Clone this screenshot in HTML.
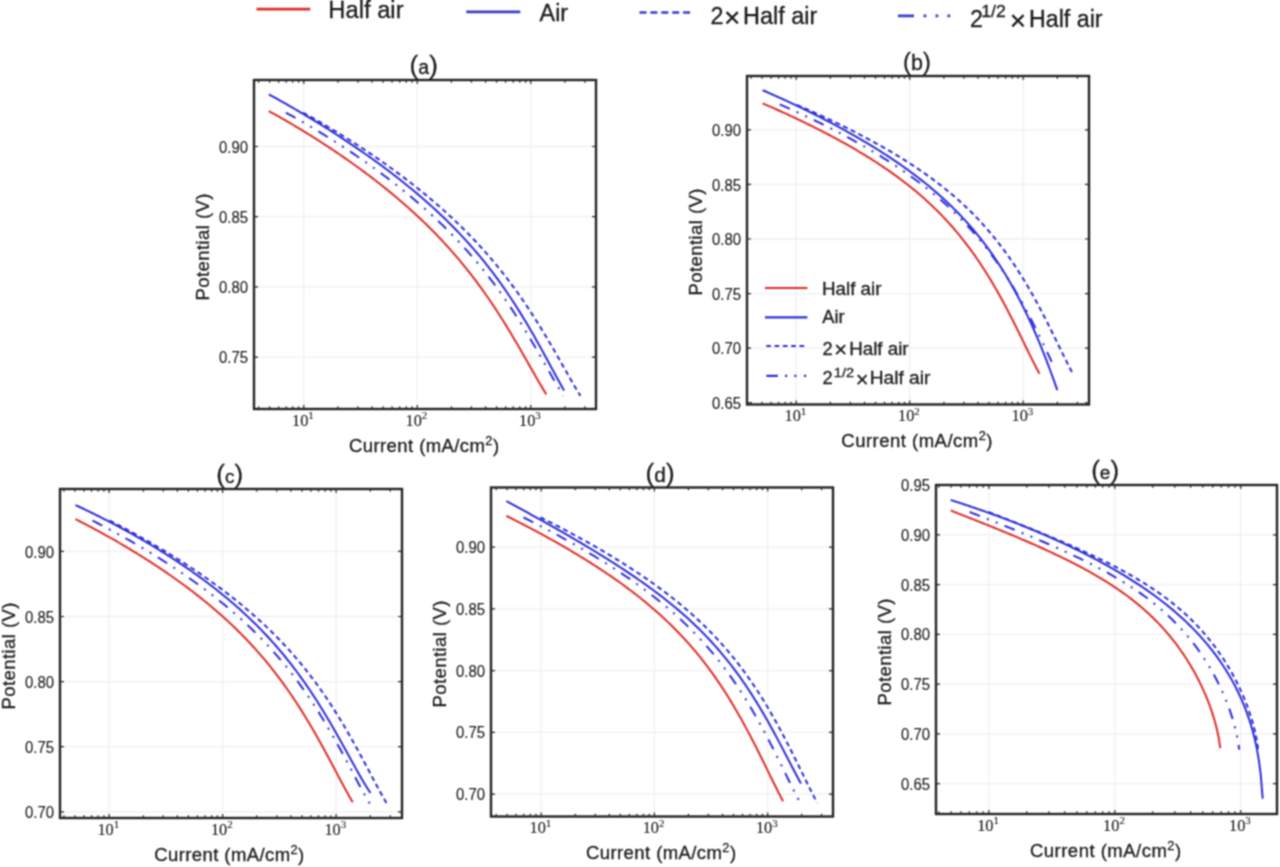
<!DOCTYPE html>
<html><head><meta charset="utf-8"><style>
html,body{margin:0;padding:0;background:#fff;width:1280px;height:867px;overflow:hidden;}
svg{display:block;}
text{stroke:#1c1c1c;stroke-width:0.3px;}
text.tk{stroke-width:0.12px;}
</style></head><body>
<svg width="1280" height="867" viewBox="0 0 1280 867">
<defs><filter id="soft" filterUnits="userSpaceOnUse" x="0" y="0" width="1280" height="867" color-interpolation-filters="sRGB"><feConvolveMatrix order="3" kernelMatrix="1 2 1 2 4 2 1 2 1" divisor="16" edgeMode="duplicate"/></filter></defs>
<g filter="url(#soft)"><rect x="0" y="0" width="1280" height="867" fill="#fff"/>
<path d="M303.75,80.00V409.00 M417.25,80.00V409.00 M530.75,80.00V409.00 M254.00,146.50H596.00 M254.00,216.70H596.00 M254.00,286.90H596.00 M254.00,357.10H596.00" stroke="#f0f0f0" stroke-width="1.3" fill="none"/>
<path d="M268.80,111.08 L270.55,112.04 L272.29,113.01 L274.04,113.98 L275.78,114.95 L277.53,115.93 L279.27,116.92 L281.02,117.91 L282.76,118.91 L284.51,119.91 L286.25,120.91 L288.00,121.93 L289.74,122.94 L291.49,123.97 L293.23,125.00 L294.98,126.03 L296.72,127.07 L298.47,128.11 L300.22,129.16 L301.96,130.22 L303.71,131.28 L305.45,132.35 L307.20,133.42 L308.94,134.50 L310.69,135.59 L312.43,136.68 L314.18,137.77 L315.92,138.88 L317.67,139.98 L319.41,141.10 L321.16,142.22 L322.90,143.34 L324.65,144.48 L326.39,145.62 L328.14,146.76 L329.88,147.91 L331.63,149.07 L333.38,150.23 L335.12,151.40 L336.87,152.58 L338.61,153.77 L340.36,154.96 L342.10,156.15 L343.85,157.36 L345.59,158.57 L347.34,159.79 L349.08,161.02 L350.83,162.25 L352.57,163.49 L354.32,164.74 L356.06,165.99 L357.81,167.25 L359.55,168.53 L361.30,169.80 L363.05,171.09 L364.79,172.39 L366.54,173.69 L368.28,175.00 L370.03,176.32 L371.77,177.65 L373.52,178.98 L375.26,180.33 L377.01,181.69 L378.75,183.05 L380.50,184.42 L382.24,185.81 L383.99,187.20 L385.73,188.60 L387.48,190.01 L389.22,191.44 L390.97,192.87 L392.72,194.31 L394.46,195.77 L396.21,197.24 L397.95,198.71 L399.70,200.20 L401.44,201.70 L403.19,203.21 L404.93,204.74 L406.68,206.27 L408.42,207.82 L410.17,209.38 L411.91,210.96 L413.66,212.55 L415.40,214.15 L417.15,215.77 L418.89,217.40 L420.64,219.04 L422.38,220.70 L424.13,222.38 L425.88,224.07 L427.62,225.78 L429.37,227.50 L431.11,229.24 L432.86,231.00 L434.60,232.78 L436.35,234.57 L438.09,236.38 L439.84,238.21 L441.58,240.06 L443.33,241.93 L445.07,243.81 L446.82,245.72 L448.56,247.65 L450.31,249.60 L452.05,251.57 L453.80,253.56 L455.55,255.58 L457.29,257.62 L459.04,259.68 L460.78,261.77 L462.53,263.88 L464.27,266.01 L466.02,268.17 L467.76,270.36 L469.51,272.57 L471.25,274.81 L473.00,277.07 L474.74,279.36 L476.49,281.68 L478.23,284.03 L479.98,286.41 L481.72,288.81 L483.47,291.25 L485.22,293.71 L486.96,296.20 L488.71,298.73 L490.45,301.28 L492.20,303.87 L493.94,306.48 L495.69,309.13 L497.43,311.80 L499.18,314.51 L500.92,317.24 L502.67,320.00 L504.41,322.80 L506.16,325.62 L507.90,328.47 L509.65,331.35 L511.39,334.25 L513.14,337.18 L514.88,340.14 L516.63,343.11 L518.38,346.11 L520.12,349.12 L521.87,352.16 L523.61,355.20 L525.36,358.26 L527.10,361.33 L528.85,364.40 L530.59,367.48 L532.34,370.55 L534.08,373.61 L535.83,376.67 L537.57,379.70 L539.32,382.71 L541.06,385.69 L542.81,388.63 L544.55,391.52 L546.30,394.35" stroke="#de2e28" stroke-width="2" fill="none"/>
<path d="M268.80,94.37 L270.66,95.38 L272.51,96.40 L274.37,97.43 L276.23,98.46 L278.09,99.49 L279.94,100.53 L281.80,101.57 L283.66,102.62 L285.52,103.67 L287.37,104.73 L289.23,105.79 L291.09,106.86 L292.94,107.93 L294.80,109.01 L296.66,110.09 L298.52,111.17 L300.37,112.27 L302.23,113.36 L304.09,114.47 L305.94,115.57 L307.80,116.68 L309.66,117.80 L311.52,118.93 L313.37,120.05 L315.23,121.19 L317.09,122.33 L318.95,123.47 L320.80,124.62 L322.66,125.77 L324.52,126.93 L326.37,128.10 L328.23,129.27 L330.09,130.45 L331.95,131.63 L333.80,132.82 L335.66,134.02 L337.52,135.22 L339.37,136.43 L341.23,137.64 L343.09,138.86 L344.95,140.08 L346.80,141.31 L348.66,142.55 L350.52,143.80 L352.38,145.05 L354.23,146.31 L356.09,147.57 L357.95,148.84 L359.80,150.12 L361.66,151.40 L363.52,152.70 L365.38,153.99 L367.23,155.30 L369.09,156.61 L370.95,157.94 L372.81,159.27 L374.66,160.60 L376.52,161.95 L378.38,163.30 L380.23,164.66 L382.09,166.03 L383.95,167.41 L385.81,168.80 L387.66,170.19 L389.52,171.60 L391.38,173.01 L393.23,174.43 L395.09,175.87 L396.95,177.31 L398.81,178.76 L400.66,180.22 L402.52,181.70 L404.38,183.18 L406.24,184.67 L408.09,186.18 L409.95,187.70 L411.81,189.22 L413.66,190.76 L415.52,192.32 L417.38,193.88 L419.24,195.46 L421.09,197.05 L422.95,198.65 L424.81,200.27 L426.66,201.90 L428.52,203.55 L430.38,205.21 L432.24,206.88 L434.09,208.57 L435.95,210.28 L437.81,212.00 L439.67,213.74 L441.52,215.50 L443.38,217.27 L445.24,219.06 L447.09,220.87 L448.95,222.70 L450.81,224.55 L452.67,226.42 L454.52,228.31 L456.38,230.22 L458.24,232.15 L460.09,234.10 L461.95,236.07 L463.81,238.07 L465.67,240.09 L467.52,242.14 L469.38,244.21 L471.24,246.30 L473.10,248.42 L474.95,250.57 L476.81,252.74 L478.67,254.95 L480.52,257.18 L482.38,259.44 L484.24,261.73 L486.10,264.05 L487.95,266.40 L489.81,268.78 L491.67,271.19 L493.53,273.64 L495.38,276.12 L497.24,278.64 L499.10,281.19 L500.95,283.77 L502.81,286.39 L504.67,289.05 L506.53,291.74 L508.38,294.47 L510.24,297.24 L512.10,300.04 L513.95,302.88 L515.81,305.76 L517.67,308.68 L519.53,311.64 L521.38,314.63 L523.24,317.66 L525.10,320.73 L526.96,323.84 L528.81,326.98 L530.67,330.16 L532.53,333.37 L534.38,336.61 L536.24,339.89 L538.10,343.19 L539.96,346.52 L541.81,349.88 L543.67,353.26 L545.53,356.66 L547.38,360.07 L549.24,363.49 L551.10,366.92 L552.96,370.36 L554.81,373.79 L556.67,377.20 L558.53,380.60 L560.39,383.98 L562.24,387.32 L564.10,390.62" stroke="#2e2edc" stroke-width="2" fill="none"/>
<path d="M302.97,112.58 L304.71,113.54 L306.46,114.51 L308.20,115.48 L309.95,116.45 L311.69,117.43 L313.44,118.42 L315.18,119.41 L316.93,120.41 L318.67,121.41 L320.42,122.41 L322.17,123.43 L323.91,124.44 L325.66,125.47 L327.40,126.50 L329.15,127.53 L330.89,128.57 L332.64,129.61 L334.38,130.66 L336.13,131.72 L337.87,132.78 L339.62,133.85 L341.36,134.92 L343.11,136.00 L344.85,137.09 L346.60,138.18 L348.34,139.27 L350.09,140.38 L351.83,141.48 L353.58,142.60 L355.33,143.72 L357.07,144.84 L358.82,145.98 L360.56,147.12 L362.31,148.26 L364.05,149.41 L365.80,150.57 L367.54,151.73 L369.29,152.90 L371.03,154.08 L372.78,155.27 L374.52,156.46 L376.27,157.65 L378.01,158.86 L379.76,160.07 L381.50,161.29 L383.25,162.52 L385.00,163.75 L386.74,164.99 L388.49,166.24 L390.23,167.49 L391.98,168.75 L393.72,170.03 L395.47,171.30 L397.21,172.59 L398.96,173.89 L400.70,175.19 L402.45,176.50 L404.19,177.82 L405.94,179.15 L407.68,180.48 L409.43,181.83 L411.17,183.19 L412.92,184.55 L414.67,185.92 L416.41,187.31 L418.16,188.70 L419.90,190.10 L421.65,191.51 L423.39,192.94 L425.14,194.37 L426.88,195.81 L428.63,197.27 L430.37,198.74 L432.12,200.21 L433.86,201.70 L435.61,203.20 L437.35,204.71 L439.10,206.24 L440.84,207.77 L442.59,209.32 L444.33,210.88 L446.08,212.46 L447.83,214.05 L449.57,215.65 L451.32,217.27 L453.06,218.90 L454.81,220.54 L456.55,222.20 L458.30,223.88 L460.04,225.57 L461.79,227.28 L463.53,229.00 L465.28,230.74 L467.02,232.50 L468.77,234.28 L470.51,236.07 L472.26,237.88 L474.00,239.71 L475.75,241.56 L477.50,243.43 L479.24,245.31 L480.99,247.22 L482.73,249.15 L484.48,251.10 L486.22,253.07 L487.97,255.06 L489.71,257.08 L491.46,259.12 L493.20,261.18 L494.95,263.27 L496.69,265.38 L498.44,267.51 L500.18,269.67 L501.93,271.86 L503.67,274.07 L505.42,276.31 L507.17,278.57 L508.91,280.86 L510.66,283.18 L512.40,285.53 L514.15,287.91 L515.89,290.31 L517.64,292.75 L519.38,295.21 L521.13,297.70 L522.87,300.23 L524.62,302.78 L526.36,305.37 L528.11,307.98 L529.85,310.63 L531.60,313.30 L533.34,316.01 L535.09,318.74 L536.83,321.50 L538.58,324.30 L540.33,327.12 L542.07,329.97 L543.82,332.85 L545.56,335.75 L547.31,338.68 L549.05,341.64 L550.80,344.61 L552.54,347.61 L554.29,350.62 L556.03,353.66 L557.78,356.70 L559.52,359.76 L561.27,362.83 L563.01,365.90 L564.76,368.98 L566.50,372.05 L568.25,375.11 L570.00,378.17 L571.74,381.20 L573.49,384.21 L575.23,387.19 L576.98,390.13 L578.72,393.02 L580.47,395.85" stroke="#2e2edc" stroke-width="2" fill="none" stroke-dasharray="5,3.5"/>
<path d="M285.88,112.58 L287.63,113.54 L289.37,114.51 L291.12,115.48 L292.86,116.45 L294.61,117.43 L296.36,118.42 L298.10,119.41 L299.85,120.41 L301.59,121.41 L303.34,122.41 L305.08,123.43 L306.83,124.44 L308.57,125.47 L310.32,126.50 L312.06,127.53 L313.81,128.57 L315.55,129.61 L317.30,130.66 L319.04,131.72 L320.79,132.78 L322.53,133.85 L324.28,134.92 L326.02,136.00 L327.77,137.09 L329.52,138.18 L331.26,139.27 L333.01,140.38 L334.75,141.48 L336.50,142.60 L338.24,143.72 L339.99,144.84 L341.73,145.98 L343.48,147.12 L345.22,148.26 L346.97,149.41 L348.71,150.57 L350.46,151.73 L352.20,152.90 L353.95,154.08 L355.69,155.27 L357.44,156.46 L359.19,157.65 L360.93,158.86 L362.68,160.07 L364.42,161.29 L366.17,162.52 L367.91,163.75 L369.66,164.99 L371.40,166.24 L373.15,167.49 L374.89,168.75 L376.64,170.03 L378.38,171.30 L380.13,172.59 L381.87,173.89 L383.62,175.19 L385.36,176.50 L387.11,177.82 L388.86,179.15 L390.60,180.48 L392.35,181.83 L394.09,183.19 L395.84,184.55 L397.58,185.92 L399.33,187.31 L401.07,188.70 L402.82,190.10 L404.56,191.51 L406.31,192.94 L408.05,194.37 L409.80,195.81 L411.54,197.27 L413.29,198.74 L415.03,200.21 L416.78,201.70 L418.52,203.20 L420.27,204.71 L422.02,206.24 L423.76,207.77 L425.51,209.32 L427.25,210.88 L429.00,212.46 L430.74,214.05 L432.49,215.65 L434.23,217.27 L435.98,218.90 L437.72,220.54 L439.47,222.20 L441.21,223.88 L442.96,225.57 L444.70,227.28 L446.45,229.00 L448.19,230.74 L449.94,232.50 L451.69,234.28 L453.43,236.07 L455.18,237.88 L456.92,239.71 L458.67,241.56 L460.41,243.43 L462.16,245.31 L463.90,247.22 L465.65,249.15 L467.39,251.10 L469.14,253.07 L470.88,255.06 L472.63,257.08 L474.37,259.12 L476.12,261.18 L477.86,263.27 L479.61,265.38 L481.36,267.51 L483.10,269.67 L484.85,271.86 L486.59,274.07 L488.34,276.31 L490.08,278.57 L491.83,280.86 L493.57,283.18 L495.32,285.53 L497.06,287.91 L498.81,290.31 L500.55,292.75 L502.30,295.21 L504.04,297.70 L505.79,300.23 L507.53,302.78 L509.28,305.37 L511.02,307.98 L512.77,310.63 L514.52,313.30 L516.26,316.01 L518.01,318.74 L519.75,321.50 L521.50,324.30 L523.24,327.12 L524.99,329.97 L526.73,332.85 L528.48,335.75 L530.22,338.68 L531.97,341.64 L533.71,344.61 L535.46,347.61 L537.20,350.62 L538.95,353.66 L540.69,356.70 L542.44,359.76 L544.19,362.83 L545.93,365.90 L547.68,368.98 L549.42,372.05 L551.17,375.11 L552.91,378.17 L554.66,381.20 L556.40,384.21 L558.15,387.19 L559.89,390.13 L561.64,393.02 L563.38,395.85" stroke="#2e2edc" stroke-width="2" fill="none" stroke-dasharray="11,7.5,2,7.5,2,7.5"/>
<path d="M258.58,409.00v-2.80 M258.58,80.00v2.80 M269.58,409.00v-2.80 M269.58,80.00v2.80 M278.57,409.00v-2.80 M278.57,80.00v2.80 M286.17,409.00v-2.80 M286.17,80.00v2.80 M292.75,409.00v-2.80 M292.75,80.00v2.80 M298.56,409.00v-2.80 M298.56,80.00v2.80 M303.75,409.00v-4.00 M303.75,80.00v4.00 M337.92,409.00v-2.80 M337.92,80.00v2.80 M357.90,409.00v-2.80 M357.90,80.00v2.80 M372.08,409.00v-2.80 M372.08,80.00v2.80 M383.08,409.00v-2.80 M383.08,80.00v2.80 M392.07,409.00v-2.80 M392.07,80.00v2.80 M399.67,409.00v-2.80 M399.67,80.00v2.80 M406.25,409.00v-2.80 M406.25,80.00v2.80 M412.06,409.00v-2.80 M412.06,80.00v2.80 M417.25,409.00v-4.00 M417.25,80.00v4.00 M451.42,409.00v-2.80 M451.42,80.00v2.80 M471.40,409.00v-2.80 M471.40,80.00v2.80 M485.58,409.00v-2.80 M485.58,80.00v2.80 M496.58,409.00v-2.80 M496.58,80.00v2.80 M505.57,409.00v-2.80 M505.57,80.00v2.80 M513.17,409.00v-2.80 M513.17,80.00v2.80 M519.75,409.00v-2.80 M519.75,80.00v2.80 M525.56,409.00v-2.80 M525.56,80.00v2.80 M530.75,409.00v-4.00 M530.75,80.00v4.00 M564.92,409.00v-2.80 M564.92,80.00v2.80 M584.90,409.00v-2.80 M584.90,80.00v2.80 M254.00,146.50h4.0 M596.00,146.50h-4.0 M254.00,216.70h4.0 M596.00,216.70h-4.0 M254.00,286.90h4.0 M596.00,286.90h-4.0 M254.00,357.10h4.0 M596.00,357.10h-4.0" stroke="#262626" stroke-width="1.2" fill="none"/>
<rect x="254.00" y="80.00" width="342.00" height="329.00" fill="none" stroke="#262626" stroke-width="2.4"/>
<path d="M796.20,76.00V404.50 M909.70,76.00V404.50 M1023.20,76.00V404.50 M747.00,129.80H1089.00 M747.00,184.40H1089.00 M747.00,239.00H1089.00 M747.00,293.60H1089.00 M747.00,348.20H1089.00 M747.00,402.80H1089.00" stroke="#f0f0f0" stroke-width="1.3" fill="none"/>
<path d="M762.60,103.36 L764.34,104.11 L766.08,104.86 L767.82,105.62 L769.57,106.38 L771.31,107.15 L773.05,107.92 L774.79,108.69 L776.53,109.47 L778.27,110.25 L780.02,111.03 L781.76,111.82 L783.50,112.61 L785.24,113.40 L786.98,114.20 L788.72,115.01 L790.46,115.82 L792.21,116.63 L793.95,117.44 L795.69,118.26 L797.43,119.09 L799.17,119.92 L800.91,120.75 L802.65,121.59 L804.40,122.43 L806.14,123.28 L807.88,124.13 L809.62,124.99 L811.36,125.85 L813.10,126.71 L814.85,127.58 L816.59,128.46 L818.33,129.34 L820.07,130.23 L821.81,131.12 L823.55,132.02 L825.29,132.92 L827.04,133.83 L828.78,134.74 L830.52,135.66 L832.26,136.58 L834.00,137.52 L835.74,138.45 L837.48,139.40 L839.23,140.35 L840.97,141.30 L842.71,142.27 L844.45,143.24 L846.19,144.21 L847.93,145.20 L849.68,146.19 L851.42,147.19 L853.16,148.19 L854.90,149.21 L856.64,150.23 L858.38,151.26 L860.12,152.29 L861.87,153.34 L863.61,154.39 L865.35,155.46 L867.09,156.53 L868.83,157.61 L870.57,158.70 L872.32,159.80 L874.06,160.91 L875.80,162.03 L877.54,163.17 L879.28,164.31 L881.02,165.46 L882.76,166.63 L884.51,167.80 L886.25,168.99 L887.99,170.19 L889.73,171.40 L891.47,172.63 L893.21,173.86 L894.95,175.11 L896.70,176.38 L898.44,177.66 L900.18,178.95 L901.92,180.26 L903.66,181.59 L905.40,182.93 L907.15,184.28 L908.89,185.66 L910.63,187.05 L912.37,188.46 L914.11,189.88 L915.85,191.33 L917.59,192.79 L919.34,194.28 L921.08,195.78 L922.82,197.30 L924.56,198.85 L926.30,200.42 L928.04,202.01 L929.78,203.62 L931.53,205.26 L933.27,206.92 L935.01,208.60 L936.75,210.32 L938.49,212.05 L940.23,213.82 L941.98,215.61 L943.72,217.43 L945.46,219.28 L947.20,221.16 L948.94,223.08 L950.68,225.02 L952.42,226.99 L954.17,229.00 L955.91,231.04 L957.65,233.12 L959.39,235.23 L961.13,237.37 L962.87,239.56 L964.62,241.78 L966.36,244.04 L968.10,246.34 L969.84,248.68 L971.58,251.06 L973.32,253.48 L975.06,255.95 L976.81,258.45 L978.55,261.00 L980.29,263.60 L982.03,266.24 L983.77,268.92 L985.51,271.65 L987.25,274.43 L989.00,277.25 L990.74,280.12 L992.48,283.04 L994.22,286.00 L995.96,289.01 L997.70,292.07 L999.45,295.17 L1001.19,298.32 L1002.93,301.51 L1004.67,304.74 L1006.41,308.02 L1008.15,311.34 L1009.89,314.70 L1011.64,318.10 L1013.38,321.53 L1015.12,324.99 L1016.86,328.48 L1018.60,331.99 L1020.34,335.53 L1022.08,339.08 L1023.83,342.64 L1025.57,346.21 L1027.31,349.77 L1029.05,353.32 L1030.79,356.85 L1032.53,360.35 L1034.28,363.80 L1036.02,367.21 L1037.76,370.55 L1039.50,373.80" stroke="#de2e28" stroke-width="2" fill="none"/>
<path d="M762.60,90.18 L764.45,90.98 L766.31,91.79 L768.16,92.60 L770.01,93.42 L771.87,94.24 L773.72,95.06 L775.57,95.89 L777.43,96.72 L779.28,97.56 L781.13,98.40 L782.99,99.25 L784.84,100.10 L786.69,100.96 L788.55,101.82 L790.40,102.68 L792.26,103.55 L794.11,104.43 L795.96,105.31 L797.82,106.19 L799.67,107.08 L801.52,107.97 L803.38,108.87 L805.23,109.77 L807.08,110.68 L808.94,111.59 L810.79,112.51 L812.64,113.43 L814.50,114.36 L816.35,115.29 L818.20,116.23 L820.06,117.17 L821.91,118.12 L823.76,119.07 L825.62,120.03 L827.47,121.00 L829.32,121.97 L831.18,122.95 L833.03,123.93 L834.88,124.92 L836.74,125.91 L838.59,126.91 L840.45,127.92 L842.30,128.93 L844.15,129.95 L846.01,130.98 L847.86,132.01 L849.71,133.05 L851.57,134.09 L853.42,135.15 L855.27,136.21 L857.13,137.27 L858.98,138.35 L860.83,139.43 L862.69,140.52 L864.54,141.61 L866.39,142.72 L868.25,143.83 L870.10,144.95 L871.95,146.08 L873.81,147.22 L875.66,148.37 L877.51,149.52 L879.37,150.69 L881.22,151.86 L883.07,153.05 L884.93,154.24 L886.78,155.44 L888.64,156.66 L890.49,157.88 L892.34,159.12 L894.20,160.36 L896.05,161.62 L897.90,162.89 L899.76,164.17 L901.61,165.47 L903.46,166.77 L905.32,168.09 L907.17,169.42 L909.02,170.77 L910.88,172.13 L912.73,173.50 L914.58,174.89 L916.44,176.30 L918.29,177.72 L920.14,179.15 L922.00,180.60 L923.85,182.07 L925.70,183.56 L927.56,185.06 L929.41,186.59 L931.26,188.13 L933.12,189.69 L934.97,191.27 L936.83,192.88 L938.68,194.50 L940.53,196.15 L942.39,197.81 L944.24,199.51 L946.09,201.22 L947.95,202.96 L949.80,204.73 L951.65,206.52 L953.51,208.34 L955.36,210.19 L957.21,212.07 L959.07,213.97 L960.92,215.91 L962.77,217.88 L964.63,219.88 L966.48,221.91 L968.33,223.98 L970.19,226.09 L972.04,228.23 L973.89,230.41 L975.75,232.63 L977.60,234.89 L979.45,237.19 L981.31,239.53 L983.16,241.91 L985.02,244.34 L986.87,246.82 L988.72,249.35 L990.58,251.92 L992.43,254.55 L994.28,257.22 L996.14,259.95 L997.99,262.74 L999.84,265.58 L1001.70,268.48 L1003.55,271.44 L1005.40,274.47 L1007.26,277.55 L1009.11,280.70 L1010.96,283.91 L1012.82,287.20 L1014.67,290.55 L1016.52,293.97 L1018.38,297.47 L1020.23,301.04 L1022.08,304.69 L1023.94,308.42 L1025.79,312.22 L1027.64,316.11 L1029.50,320.07 L1031.35,324.13 L1033.21,328.26 L1035.06,332.48 L1036.91,336.80 L1038.77,341.19 L1040.62,345.68 L1042.47,350.26 L1044.33,354.93 L1046.18,359.69 L1048.03,364.55 L1049.89,369.49 L1051.74,374.53 L1053.59,379.66 L1055.45,384.87 L1057.30,390.18" stroke="#2e2edc" stroke-width="2" fill="none"/>
<path d="M796.77,104.86 L798.51,105.61 L800.25,106.36 L801.99,107.12 L803.73,107.88 L805.47,108.65 L807.22,109.42 L808.96,110.19 L810.70,110.97 L812.44,111.75 L814.18,112.53 L815.92,113.32 L817.67,114.11 L819.41,114.90 L821.15,115.70 L822.89,116.51 L824.63,117.32 L826.37,118.13 L828.11,118.94 L829.86,119.76 L831.60,120.59 L833.34,121.42 L835.08,122.25 L836.82,123.09 L838.56,123.93 L840.30,124.78 L842.05,125.63 L843.79,126.49 L845.53,127.35 L847.27,128.21 L849.01,129.08 L850.75,129.96 L852.50,130.84 L854.24,131.73 L855.98,132.62 L857.72,133.52 L859.46,134.42 L861.20,135.33 L862.94,136.24 L864.69,137.16 L866.43,138.08 L868.17,139.02 L869.91,139.95 L871.65,140.90 L873.39,141.85 L875.13,142.80 L876.88,143.77 L878.62,144.74 L880.36,145.71 L882.10,146.70 L883.84,147.69 L885.58,148.69 L887.33,149.69 L889.07,150.71 L890.81,151.73 L892.55,152.76 L894.29,153.79 L896.03,154.84 L897.77,155.89 L899.52,156.96 L901.26,158.03 L903.00,159.11 L904.74,160.20 L906.48,161.30 L908.22,162.41 L909.97,163.53 L911.71,164.67 L913.45,165.81 L915.19,166.96 L916.93,168.13 L918.67,169.30 L920.41,170.49 L922.16,171.69 L923.90,172.90 L925.64,174.13 L927.38,175.36 L929.12,176.61 L930.86,177.88 L932.60,179.16 L934.35,180.45 L936.09,181.76 L937.83,183.09 L939.57,184.43 L941.31,185.78 L943.05,187.16 L944.80,188.55 L946.54,189.96 L948.28,191.38 L950.02,192.83 L951.76,194.29 L953.50,195.78 L955.24,197.28 L956.99,198.80 L958.73,200.35 L960.47,201.92 L962.21,203.51 L963.95,205.12 L965.69,206.76 L967.43,208.42 L969.18,210.10 L970.92,211.82 L972.66,213.55 L974.40,215.32 L976.14,217.11 L977.88,218.93 L979.63,220.78 L981.37,222.66 L983.11,224.58 L984.85,226.52 L986.59,228.49 L988.33,230.50 L990.07,232.54 L991.82,234.62 L993.56,236.73 L995.30,238.87 L997.04,241.06 L998.78,243.28 L1000.52,245.54 L1002.27,247.84 L1004.01,250.18 L1005.75,252.56 L1007.49,254.98 L1009.23,257.45 L1010.97,259.95 L1012.71,262.50 L1014.46,265.10 L1016.20,267.74 L1017.94,270.42 L1019.68,273.15 L1021.42,275.93 L1023.16,278.75 L1024.90,281.62 L1026.65,284.54 L1028.39,287.50 L1030.13,290.51 L1031.87,293.57 L1033.61,296.67 L1035.35,299.82 L1037.10,303.01 L1038.84,306.24 L1040.58,309.52 L1042.32,312.84 L1044.06,316.20 L1045.80,319.60 L1047.54,323.03 L1049.29,326.49 L1051.03,329.98 L1052.77,333.49 L1054.51,337.03 L1056.25,340.58 L1057.99,344.14 L1059.73,347.71 L1061.48,351.27 L1063.22,354.82 L1064.96,358.35 L1066.70,361.85 L1068.44,365.30 L1070.18,368.71 L1071.93,372.05 L1073.67,375.30" stroke="#2e2edc" stroke-width="2" fill="none" stroke-dasharray="5,3.5"/>
<path d="M779.70,104.35 L781.42,105.10 L783.15,105.86 L784.87,106.62 L786.59,107.38 L788.32,108.15 L790.04,108.92 L791.76,109.69 L793.49,110.47 L795.21,111.25 L796.93,112.04 L798.66,112.83 L800.38,113.63 L802.10,114.43 L803.83,115.23 L805.55,116.04 L807.27,116.85 L809.00,117.67 L810.72,118.49 L812.44,119.32 L814.17,120.15 L815.89,120.98 L817.61,121.82 L819.34,122.67 L821.06,123.51 L822.78,124.37 L824.51,125.23 L826.23,126.09 L827.95,126.96 L829.67,127.83 L831.40,128.71 L833.12,129.59 L834.84,130.48 L836.57,131.37 L838.29,132.27 L840.01,133.17 L841.74,134.08 L843.46,135.00 L845.18,135.92 L846.91,136.84 L848.63,137.78 L850.35,138.71 L852.08,139.66 L853.80,140.61 L855.52,141.56 L857.25,142.52 L858.97,143.49 L860.69,144.47 L862.42,145.45 L864.14,146.44 L865.86,147.43 L867.59,148.43 L869.31,149.44 L871.03,150.46 L872.76,151.48 L874.48,152.51 L876.20,153.55 L877.93,154.60 L879.65,155.65 L881.37,156.71 L883.10,157.78 L884.82,158.86 L886.54,159.95 L888.27,161.05 L889.99,162.15 L891.71,163.27 L893.44,164.39 L895.16,165.52 L896.88,166.67 L898.61,167.82 L900.33,168.98 L902.05,170.16 L903.78,171.34 L905.50,172.54 L907.22,173.74 L908.95,174.96 L910.67,176.19 L912.39,177.44 L914.12,178.69 L915.84,179.96 L917.56,181.24 L919.28,182.54 L921.01,183.84 L922.73,185.17 L924.45,186.50 L926.18,187.85 L927.90,189.22 L929.62,190.60 L931.35,192.00 L933.07,193.41 L934.79,194.85 L936.52,196.29 L938.24,197.76 L939.96,199.25 L941.69,200.75 L943.41,202.27 L945.13,203.81 L946.86,205.37 L948.58,206.96 L950.30,208.56 L952.03,210.19 L953.75,211.83 L955.47,213.50 L957.20,215.20 L958.92,216.92 L960.64,218.66 L962.37,220.43 L964.09,222.22 L965.81,224.04 L967.54,225.89 L969.26,227.77 L970.98,229.67 L972.71,231.61 L974.43,233.57 L976.15,235.57 L977.88,237.59 L979.60,239.65 L981.32,241.74 L983.05,243.87 L984.77,246.03 L986.49,248.22 L988.22,250.46 L989.94,252.72 L991.66,255.03 L993.39,257.37 L995.11,259.76 L996.83,262.18 L998.56,264.64 L1000.28,267.15 L1002.00,269.69 L1003.73,272.28 L1005.45,274.91 L1007.17,277.59 L1008.89,280.31 L1010.62,283.07 L1012.34,285.88 L1014.06,288.74 L1015.79,291.64 L1017.51,294.59 L1019.23,297.58 L1020.96,300.62 L1022.68,303.71 L1024.40,306.84 L1026.13,310.02 L1027.85,313.24 L1029.57,316.51 L1031.30,319.82 L1033.02,323.18 L1034.74,326.58 L1036.47,330.01 L1038.19,333.49 L1039.91,337.01 L1041.64,340.56 L1043.36,344.14 L1045.08,347.75 L1046.81,351.39 L1048.53,355.05 L1050.25,358.73 L1051.98,362.42 L1053.70,366.12" stroke="#2e2edc" stroke-width="2" fill="none" stroke-dasharray="11,7.5,2,7.5,2,7.5"/>
<path d="M751.03,404.50v-2.80 M751.03,76.00v2.80 M762.03,404.50v-2.80 M762.03,76.00v2.80 M771.02,404.50v-2.80 M771.02,76.00v2.80 M778.62,404.50v-2.80 M778.62,76.00v2.80 M785.20,404.50v-2.80 M785.20,76.00v2.80 M791.01,404.50v-2.80 M791.01,76.00v2.80 M796.20,404.50v-4.00 M796.20,76.00v4.00 M830.37,404.50v-2.80 M830.37,76.00v2.80 M850.35,404.50v-2.80 M850.35,76.00v2.80 M864.53,404.50v-2.80 M864.53,76.00v2.80 M875.53,404.50v-2.80 M875.53,76.00v2.80 M884.52,404.50v-2.80 M884.52,76.00v2.80 M892.12,404.50v-2.80 M892.12,76.00v2.80 M898.70,404.50v-2.80 M898.70,76.00v2.80 M904.51,404.50v-2.80 M904.51,76.00v2.80 M909.70,404.50v-4.00 M909.70,76.00v4.00 M943.87,404.50v-2.80 M943.87,76.00v2.80 M963.85,404.50v-2.80 M963.85,76.00v2.80 M978.03,404.50v-2.80 M978.03,76.00v2.80 M989.03,404.50v-2.80 M989.03,76.00v2.80 M998.02,404.50v-2.80 M998.02,76.00v2.80 M1005.62,404.50v-2.80 M1005.62,76.00v2.80 M1012.20,404.50v-2.80 M1012.20,76.00v2.80 M1018.01,404.50v-2.80 M1018.01,76.00v2.80 M1023.20,404.50v-4.00 M1023.20,76.00v4.00 M1057.37,404.50v-2.80 M1057.37,76.00v2.80 M1077.35,404.50v-2.80 M1077.35,76.00v2.80 M747.00,129.80h4.0 M1089.00,129.80h-4.0 M747.00,184.40h4.0 M1089.00,184.40h-4.0 M747.00,239.00h4.0 M1089.00,239.00h-4.0 M747.00,293.60h4.0 M1089.00,293.60h-4.0 M747.00,348.20h4.0 M1089.00,348.20h-4.0 M747.00,402.80h4.0 M1089.00,402.80h-4.0" stroke="#262626" stroke-width="1.2" fill="none"/>
<rect x="747.00" y="76.00" width="342.00" height="328.50" fill="none" stroke="#262626" stroke-width="2.4"/>
<path d="M109.10,489.00V818.00 M222.60,489.00V818.00 M336.10,489.00V818.00 M60.00,551.40H402.00 M60.00,616.50H402.00 M60.00,681.60H402.00 M60.00,746.70H402.00 M60.00,811.80H402.00" stroke="#f0f0f0" stroke-width="1.3" fill="none"/>
<path d="M75.40,519.06 L77.14,519.95 L78.89,520.84 L80.63,521.74 L82.38,522.64 L84.12,523.55 L85.86,524.46 L87.61,525.38 L89.35,526.30 L91.10,527.23 L92.84,528.16 L94.58,529.09 L96.33,530.03 L98.07,530.98 L99.82,531.93 L101.56,532.89 L103.30,533.85 L105.05,534.82 L106.79,535.79 L108.54,536.77 L110.28,537.75 L112.02,538.74 L113.77,539.73 L115.51,540.73 L117.26,541.74 L119.00,542.75 L120.74,543.76 L122.49,544.79 L124.23,545.81 L125.98,546.85 L127.72,547.88 L129.46,548.93 L131.21,549.98 L132.95,551.04 L134.70,552.10 L136.44,553.17 L138.18,554.25 L139.93,555.33 L141.67,556.42 L143.42,557.51 L145.16,558.61 L146.91,559.72 L148.65,560.84 L150.39,561.96 L152.14,563.09 L153.88,564.23 L155.63,565.37 L157.37,566.52 L159.11,567.68 L160.86,568.85 L162.60,570.02 L164.35,571.20 L166.09,572.39 L167.83,573.59 L169.58,574.80 L171.32,576.01 L173.07,577.23 L174.81,578.46 L176.55,579.71 L178.30,580.96 L180.04,582.21 L181.79,583.48 L183.53,584.76 L185.27,586.05 L187.02,587.34 L188.76,588.65 L190.51,589.97 L192.25,591.30 L193.99,592.64 L195.74,593.99 L197.48,595.35 L199.23,596.72 L200.97,598.11 L202.71,599.51 L204.46,600.92 L206.20,602.34 L207.95,603.77 L209.69,605.22 L211.43,606.68 L213.18,608.16 L214.92,609.65 L216.67,611.15 L218.41,612.67 L220.15,614.20 L221.90,615.75 L223.64,617.31 L225.39,618.89 L227.13,620.49 L228.87,622.11 L230.62,623.74 L232.36,625.39 L234.11,627.05 L235.85,628.74 L237.59,630.44 L239.34,632.17 L241.08,633.91 L242.83,635.68 L244.57,637.47 L246.31,639.27 L248.06,641.10 L249.80,642.95 L251.55,644.83 L253.29,646.73 L255.03,648.65 L256.78,650.60 L258.52,652.57 L260.27,654.57 L262.01,656.59 L263.75,658.64 L265.50,660.72 L267.24,662.82 L268.99,664.96 L270.73,667.12 L272.47,669.32 L274.22,671.54 L275.96,673.79 L277.71,676.08 L279.45,678.40 L281.19,680.75 L282.94,683.13 L284.68,685.55 L286.43,688.00 L288.17,690.48 L289.92,693.00 L291.66,695.56 L293.40,698.15 L295.15,700.77 L296.89,703.43 L298.64,706.13 L300.38,708.86 L302.12,711.63 L303.87,714.44 L305.61,717.28 L307.36,720.16 L309.10,723.08 L310.84,726.03 L312.59,729.01 L314.33,732.03 L316.08,735.08 L317.82,738.16 L319.56,741.27 L321.31,744.42 L323.05,747.58 L324.80,750.78 L326.54,754.00 L328.28,757.24 L330.03,760.49 L331.77,763.76 L333.52,767.04 L335.26,770.33 L337.00,773.62 L338.75,776.91 L340.49,780.19 L342.24,783.45 L343.98,786.69 L345.72,789.90 L347.47,793.08 L349.21,796.21 L350.96,799.28 L352.70,802.28" stroke="#de2e28" stroke-width="2" fill="none"/>
<path d="M75.40,505.04 L77.26,505.90 L79.11,506.77 L80.97,507.64 L82.82,508.52 L84.68,509.41 L86.54,510.30 L88.39,511.20 L90.25,512.10 L92.10,513.01 L93.96,513.92 L95.82,514.84 L97.67,515.76 L99.53,516.69 L101.38,517.63 L103.24,518.57 L105.10,519.52 L106.95,520.47 L108.81,521.43 L110.66,522.40 L112.52,523.37 L114.38,524.35 L116.23,525.33 L118.09,526.32 L119.94,527.32 L121.80,528.32 L123.66,529.33 L125.51,530.34 L127.37,531.37 L129.22,532.39 L131.08,533.43 L132.94,534.47 L134.79,535.52 L136.65,536.57 L138.50,537.63 L140.36,538.70 L142.22,539.77 L144.07,540.86 L145.93,541.94 L147.78,543.04 L149.64,544.14 L151.49,545.25 L153.35,546.37 L155.21,547.50 L157.06,548.63 L158.92,549.77 L160.77,550.92 L162.63,552.08 L164.49,553.24 L166.34,554.41 L168.20,555.59 L170.05,556.78 L171.91,557.98 L173.77,559.19 L175.62,560.40 L177.48,561.63 L179.33,562.86 L181.19,564.10 L183.05,565.36 L184.90,566.62 L186.76,567.89 L188.61,569.17 L190.47,570.46 L192.33,571.76 L194.18,573.07 L196.04,574.40 L197.89,575.73 L199.75,577.08 L201.61,578.43 L203.46,579.80 L205.32,581.18 L207.17,582.57 L209.03,583.98 L210.89,585.39 L212.74,586.82 L214.60,588.26 L216.45,589.72 L218.31,591.19 L220.17,592.67 L222.02,594.17 L223.88,595.69 L225.73,597.22 L227.59,598.76 L229.45,600.32 L231.30,601.89 L233.16,603.49 L235.01,605.10 L236.87,606.72 L238.73,608.37 L240.58,610.03 L242.44,611.71 L244.29,613.41 L246.15,615.13 L248.01,616.87 L249.86,618.63 L251.72,620.42 L253.57,622.22 L255.43,624.04 L257.29,625.89 L259.14,627.76 L261.00,629.66 L262.85,631.58 L264.71,633.52 L266.57,635.50 L268.42,637.49 L270.28,639.52 L272.13,641.57 L273.99,643.64 L275.85,645.75 L277.70,647.89 L279.56,650.06 L281.41,652.25 L283.27,654.48 L285.13,656.74 L286.98,659.03 L288.84,661.36 L290.69,663.72 L292.55,666.11 L294.41,668.54 L296.26,671.01 L298.12,673.51 L299.97,676.04 L301.83,678.62 L303.68,681.23 L305.54,683.88 L307.40,686.57 L309.25,689.29 L311.11,692.06 L312.96,694.86 L314.82,697.70 L316.68,700.58 L318.53,703.50 L320.39,706.46 L322.24,709.46 L324.10,712.49 L325.96,715.56 L327.81,718.67 L329.67,721.81 L331.52,724.99 L333.38,728.19 L335.24,731.43 L337.09,734.70 L338.95,737.99 L340.80,741.30 L342.66,744.63 L344.52,747.98 L346.37,751.34 L348.23,754.71 L350.08,758.08 L351.94,761.45 L353.80,764.80 L355.65,768.14 L357.51,771.45 L359.36,774.73 L361.22,777.97 L363.08,781.15 L364.93,784.26 L366.79,787.29 L368.64,790.23 L370.50,793.06" stroke="#2e2edc" stroke-width="2" fill="none"/>
<path d="M109.57,520.56 L111.31,521.45 L113.05,522.34 L114.80,523.24 L116.54,524.14 L118.29,525.05 L120.03,525.96 L121.78,526.88 L123.52,527.80 L125.26,528.73 L127.01,529.66 L128.75,530.59 L130.50,531.53 L132.24,532.48 L133.98,533.43 L135.73,534.39 L137.47,535.35 L139.22,536.32 L140.96,537.29 L142.70,538.27 L144.45,539.25 L146.19,540.24 L147.94,541.23 L149.68,542.23 L151.42,543.24 L153.17,544.25 L154.91,545.26 L156.66,546.29 L158.40,547.31 L160.14,548.35 L161.89,549.38 L163.63,550.43 L165.38,551.48 L167.12,552.54 L168.86,553.60 L170.61,554.67 L172.35,555.75 L174.10,556.83 L175.84,557.92 L177.58,559.01 L179.33,560.11 L181.07,561.22 L182.82,562.34 L184.56,563.46 L186.30,564.59 L188.05,565.73 L189.79,566.87 L191.54,568.02 L193.28,569.18 L195.02,570.35 L196.77,571.52 L198.51,572.70 L200.26,573.89 L202.00,575.09 L203.74,576.30 L205.49,577.51 L207.23,578.73 L208.98,579.96 L210.72,581.21 L212.46,582.46 L214.21,583.71 L215.95,584.98 L217.70,586.26 L219.44,587.55 L221.18,588.84 L222.93,590.15 L224.67,591.47 L226.42,592.80 L228.16,594.14 L229.90,595.49 L231.65,596.85 L233.39,598.22 L235.14,599.61 L236.88,601.01 L238.62,602.42 L240.37,603.84 L242.11,605.27 L243.86,606.72 L245.60,608.18 L247.34,609.66 L249.09,611.15 L250.83,612.65 L252.58,614.17 L254.32,615.70 L256.07,617.25 L257.81,618.81 L259.55,620.39 L261.30,621.99 L263.04,623.61 L264.79,625.24 L266.53,626.89 L268.27,628.55 L270.02,630.24 L271.76,631.94 L273.51,633.67 L275.25,635.41 L276.99,637.18 L278.74,638.97 L280.48,640.77 L282.23,642.60 L283.97,644.45 L285.71,646.33 L287.46,648.23 L289.20,650.15 L290.95,652.10 L292.69,654.07 L294.43,656.07 L296.18,658.09 L297.92,660.14 L299.67,662.22 L301.41,664.32 L303.15,666.46 L304.90,668.62 L306.64,670.82 L308.39,673.04 L310.13,675.29 L311.87,677.58 L313.62,679.90 L315.36,682.25 L317.11,684.63 L318.85,687.05 L320.59,689.50 L322.34,691.98 L324.08,694.50 L325.83,697.06 L327.57,699.65 L329.31,702.27 L331.06,704.93 L332.80,707.63 L334.55,710.36 L336.29,713.13 L338.03,715.94 L339.78,718.78 L341.52,721.66 L343.27,724.58 L345.01,727.53 L346.75,730.51 L348.50,733.53 L350.24,736.58 L351.99,739.66 L353.73,742.77 L355.47,745.92 L357.22,749.08 L358.96,752.28 L360.71,755.50 L362.45,758.74 L364.19,761.99 L365.94,765.26 L367.68,768.54 L369.43,771.83 L371.17,775.12 L372.91,778.41 L374.66,781.69 L376.40,784.95 L378.15,788.19 L379.89,791.40 L381.63,794.58 L383.38,797.71 L385.12,800.78 L386.87,803.78" stroke="#2e2edc" stroke-width="2" fill="none" stroke-dasharray="5,3.5"/>
<path d="M92.48,520.56 L94.23,521.45 L95.97,522.34 L97.72,523.24 L99.46,524.14 L101.20,525.05 L102.95,525.96 L104.69,526.88 L106.44,527.80 L108.18,528.73 L109.92,529.66 L111.67,530.59 L113.41,531.53 L115.16,532.48 L116.90,533.43 L118.64,534.39 L120.39,535.35 L122.13,536.32 L123.88,537.29 L125.62,538.27 L127.36,539.25 L129.11,540.24 L130.85,541.23 L132.60,542.23 L134.34,543.24 L136.08,544.25 L137.83,545.26 L139.57,546.29 L141.32,547.31 L143.06,548.35 L144.80,549.38 L146.55,550.43 L148.29,551.48 L150.04,552.54 L151.78,553.60 L153.52,554.67 L155.27,555.75 L157.01,556.83 L158.76,557.92 L160.50,559.01 L162.24,560.11 L163.99,561.22 L165.73,562.34 L167.48,563.46 L169.22,564.59 L170.96,565.73 L172.71,566.87 L174.45,568.02 L176.20,569.18 L177.94,570.35 L179.68,571.52 L181.43,572.70 L183.17,573.89 L184.92,575.09 L186.66,576.30 L188.40,577.51 L190.15,578.73 L191.89,579.96 L193.64,581.21 L195.38,582.46 L197.12,583.71 L198.87,584.98 L200.61,586.26 L202.36,587.55 L204.10,588.84 L205.85,590.15 L207.59,591.47 L209.33,592.80 L211.08,594.14 L212.82,595.49 L214.57,596.85 L216.31,598.22 L218.05,599.61 L219.80,601.01 L221.54,602.42 L223.29,603.84 L225.03,605.27 L226.77,606.72 L228.52,608.18 L230.26,609.66 L232.01,611.15 L233.75,612.65 L235.49,614.17 L237.24,615.70 L238.98,617.25 L240.73,618.81 L242.47,620.39 L244.21,621.99 L245.96,623.61 L247.70,625.24 L249.45,626.89 L251.19,628.55 L252.93,630.24 L254.68,631.94 L256.42,633.67 L258.17,635.41 L259.91,637.18 L261.65,638.97 L263.40,640.77 L265.14,642.60 L266.89,644.45 L268.63,646.33 L270.37,648.23 L272.12,650.15 L273.86,652.10 L275.61,654.07 L277.35,656.07 L279.09,658.09 L280.84,660.14 L282.58,662.22 L284.33,664.32 L286.07,666.46 L287.81,668.62 L289.56,670.82 L291.30,673.04 L293.05,675.29 L294.79,677.58 L296.53,679.90 L298.28,682.25 L300.02,684.63 L301.77,687.05 L303.51,689.50 L305.25,691.98 L307.00,694.50 L308.74,697.06 L310.49,699.65 L312.23,702.27 L313.97,704.93 L315.72,707.63 L317.46,710.36 L319.21,713.13 L320.95,715.94 L322.69,718.78 L324.44,721.66 L326.18,724.58 L327.93,727.53 L329.67,730.51 L331.41,733.53 L333.16,736.58 L334.90,739.66 L336.65,742.77 L338.39,745.92 L340.14,749.08 L341.88,752.28 L343.62,755.50 L345.37,758.74 L347.11,761.99 L348.86,765.26 L350.60,768.54 L352.34,771.83 L354.09,775.12 L355.83,778.41 L357.58,781.69 L359.32,784.95 L361.06,788.19 L362.81,791.40 L364.55,794.58 L366.30,797.71 L368.04,800.78 L369.78,803.78" stroke="#2e2edc" stroke-width="2" fill="none" stroke-dasharray="11,7.5,2,7.5,2,7.5"/>
<path d="M63.93,818.00v-2.80 M63.93,489.00v2.80 M74.93,818.00v-2.80 M74.93,489.00v2.80 M83.92,818.00v-2.80 M83.92,489.00v2.80 M91.52,818.00v-2.80 M91.52,489.00v2.80 M98.10,818.00v-2.80 M98.10,489.00v2.80 M103.91,818.00v-2.80 M103.91,489.00v2.80 M109.10,818.00v-4.00 M109.10,489.00v4.00 M143.27,818.00v-2.80 M143.27,489.00v2.80 M163.25,818.00v-2.80 M163.25,489.00v2.80 M177.43,818.00v-2.80 M177.43,489.00v2.80 M188.43,818.00v-2.80 M188.43,489.00v2.80 M197.42,818.00v-2.80 M197.42,489.00v2.80 M205.02,818.00v-2.80 M205.02,489.00v2.80 M211.60,818.00v-2.80 M211.60,489.00v2.80 M217.41,818.00v-2.80 M217.41,489.00v2.80 M222.60,818.00v-4.00 M222.60,489.00v4.00 M256.77,818.00v-2.80 M256.77,489.00v2.80 M276.75,818.00v-2.80 M276.75,489.00v2.80 M290.93,818.00v-2.80 M290.93,489.00v2.80 M301.93,818.00v-2.80 M301.93,489.00v2.80 M310.92,818.00v-2.80 M310.92,489.00v2.80 M318.52,818.00v-2.80 M318.52,489.00v2.80 M325.10,818.00v-2.80 M325.10,489.00v2.80 M330.91,818.00v-2.80 M330.91,489.00v2.80 M336.10,818.00v-4.00 M336.10,489.00v4.00 M370.27,818.00v-2.80 M370.27,489.00v2.80 M390.25,818.00v-2.80 M390.25,489.00v2.80 M60.00,551.40h4.0 M402.00,551.40h-4.0 M60.00,616.50h4.0 M402.00,616.50h-4.0 M60.00,681.60h4.0 M402.00,681.60h-4.0 M60.00,746.70h4.0 M402.00,746.70h-4.0 M60.00,811.80h4.0 M402.00,811.80h-4.0" stroke="#262626" stroke-width="1.2" fill="none"/>
<rect x="60.00" y="489.00" width="342.00" height="329.00" fill="none" stroke="#262626" stroke-width="2.4"/>
<path d="M541.20,487.50V816.50 M654.40,487.50V816.50 M767.60,487.50V816.50 M491.00,547.10H833.00 M491.00,608.85H833.00 M491.00,670.60H833.00 M491.00,732.35H833.00 M491.00,794.10H833.00" stroke="#f0f0f0" stroke-width="1.3" fill="none"/>
<path d="M506.40,515.88 L508.14,516.75 L509.88,517.62 L511.62,518.50 L513.36,519.38 L515.10,520.27 L516.84,521.15 L518.58,522.04 L520.32,522.94 L522.06,523.84 L523.80,524.74 L525.54,525.65 L527.28,526.56 L529.02,527.47 L530.76,528.39 L532.50,529.31 L534.24,530.24 L535.98,531.17 L537.72,532.11 L539.46,533.05 L541.21,533.99 L542.95,534.94 L544.69,535.89 L546.43,536.85 L548.17,537.81 L549.91,538.78 L551.65,539.75 L553.39,540.72 L555.13,541.70 L556.87,542.69 L558.61,543.68 L560.35,544.67 L562.09,545.67 L563.83,546.68 L565.57,547.69 L567.31,548.71 L569.05,549.73 L570.79,550.75 L572.53,551.79 L574.27,552.83 L576.01,553.87 L577.75,554.92 L579.49,555.98 L581.23,557.04 L582.97,558.11 L584.71,559.18 L586.45,560.27 L588.19,561.36 L589.93,562.45 L591.67,563.55 L593.41,564.66 L595.15,565.78 L596.89,566.91 L598.63,568.04 L600.37,569.18 L602.11,570.33 L603.85,571.48 L605.59,572.65 L607.33,573.82 L609.07,575.00 L610.82,576.19 L612.56,577.39 L614.30,578.60 L616.04,579.82 L617.78,581.05 L619.52,582.29 L621.26,583.54 L623.00,584.80 L624.74,586.07 L626.48,587.35 L628.22,588.65 L629.96,589.95 L631.70,591.27 L633.44,592.60 L635.18,593.94 L636.92,595.30 L638.66,596.67 L640.40,598.05 L642.14,599.45 L643.88,600.86 L645.62,602.28 L647.36,603.72 L649.10,605.18 L650.84,606.65 L652.58,608.14 L654.32,609.65 L656.06,611.17 L657.80,612.71 L659.54,614.27 L661.28,615.85 L663.02,617.45 L664.76,619.07 L666.50,620.70 L668.24,622.36 L669.98,624.04 L671.72,625.74 L673.46,627.47 L675.20,629.22 L676.94,630.99 L678.68,632.78 L680.43,634.61 L682.17,636.45 L683.91,638.33 L685.65,640.23 L687.39,642.15 L689.13,644.11 L690.87,646.10 L692.61,648.11 L694.35,650.16 L696.09,652.23 L697.83,654.34 L699.57,656.48 L701.31,658.66 L703.05,660.87 L704.79,663.11 L706.53,665.39 L708.27,667.70 L710.01,670.06 L711.75,672.44 L713.49,674.87 L715.23,677.34 L716.97,679.84 L718.71,682.39 L720.45,684.98 L722.19,687.61 L723.93,690.28 L725.67,692.99 L727.41,695.74 L729.15,698.54 L730.89,701.38 L732.63,704.26 L734.37,707.19 L736.11,710.16 L737.85,713.17 L739.59,716.23 L741.33,719.33 L743.07,722.47 L744.81,725.66 L746.55,728.88 L748.29,732.14 L750.04,735.45 L751.78,738.78 L753.52,742.16 L755.26,745.56 L757.00,749.00 L758.74,752.47 L760.48,755.96 L762.22,759.47 L763.96,763.00 L765.70,766.54 L767.44,770.09 L769.18,773.64 L770.92,777.19 L772.66,780.72 L774.40,784.24 L776.14,787.74 L777.88,791.19 L779.62,794.61 L781.36,797.96 L783.10,801.25" stroke="#de2e28" stroke-width="2" fill="none"/>
<path d="M506.40,501.18 L508.25,502.17 L510.11,503.17 L511.96,504.17 L513.81,505.17 L515.66,506.17 L517.52,507.17 L519.37,508.18 L521.22,509.19 L523.08,510.20 L524.93,511.21 L526.78,512.22 L528.63,513.24 L530.49,514.26 L532.34,515.28 L534.19,516.30 L536.05,517.32 L537.90,518.35 L539.75,519.38 L541.60,520.41 L543.46,521.45 L545.31,522.48 L547.16,523.52 L549.02,524.56 L550.87,525.61 L552.72,526.65 L554.57,527.70 L556.43,528.76 L558.28,529.81 L560.13,530.87 L561.98,531.93 L563.84,532.99 L565.69,534.06 L567.54,535.13 L569.40,536.20 L571.25,537.28 L573.10,538.36 L574.95,539.45 L576.81,540.53 L578.66,541.62 L580.51,542.72 L582.37,543.82 L584.22,544.92 L586.07,546.03 L587.92,547.14 L589.78,548.25 L591.63,549.37 L593.48,550.49 L595.34,551.62 L597.19,552.76 L599.04,553.89 L600.89,555.04 L602.75,556.18 L604.60,557.34 L606.45,558.50 L608.31,559.66 L610.16,560.83 L612.01,562.01 L613.86,563.19 L615.72,564.38 L617.57,565.57 L619.42,566.77 L621.28,567.98 L623.13,569.20 L624.98,570.42 L626.83,571.65 L628.69,572.89 L630.54,574.14 L632.39,575.39 L634.25,576.65 L636.10,577.93 L637.95,579.21 L639.80,580.50 L641.66,581.80 L643.51,583.11 L645.36,584.43 L647.22,585.76 L649.07,587.10 L650.92,588.45 L652.77,589.82 L654.63,591.19 L656.48,592.58 L658.33,593.98 L660.18,595.40 L662.04,596.83 L663.89,598.27 L665.74,599.73 L667.60,601.20 L669.45,602.69 L671.30,604.19 L673.15,605.71 L675.01,607.25 L676.86,608.80 L678.71,610.38 L680.57,611.97 L682.42,613.58 L684.27,615.21 L686.12,616.86 L687.98,618.53 L689.83,620.23 L691.68,621.94 L693.54,623.68 L695.39,625.44 L697.24,627.23 L699.09,629.05 L700.95,630.89 L702.80,632.75 L704.65,634.64 L706.51,636.57 L708.36,638.52 L710.21,640.50 L712.06,642.51 L713.92,644.55 L715.77,646.63 L717.62,648.74 L719.48,650.88 L721.33,653.06 L723.18,655.27 L725.03,657.52 L726.89,659.81 L728.74,662.14 L730.59,664.50 L732.45,666.91 L734.30,669.36 L736.15,671.85 L738.00,674.38 L739.86,676.95 L741.71,679.57 L743.56,682.23 L745.42,684.94 L747.27,687.69 L749.12,690.49 L750.97,693.33 L752.83,696.22 L754.68,699.16 L756.53,702.15 L758.38,705.18 L760.24,708.25 L762.09,711.38 L763.94,714.55 L765.80,717.76 L767.65,721.01 L769.50,724.31 L771.35,727.65 L773.21,731.03 L775.06,734.44 L776.91,737.89 L778.77,741.37 L780.62,744.87 L782.47,748.40 L784.32,751.95 L786.18,755.51 L788.03,759.08 L789.88,762.65 L791.74,766.21 L793.59,769.76 L795.44,773.29 L797.29,776.78 L799.15,780.23 L801.00,783.62" stroke="#2e2edc" stroke-width="2" fill="none"/>
<path d="M540.48,517.38 L542.22,518.25 L543.96,519.12 L545.70,520.00 L547.44,520.88 L549.18,521.77 L550.92,522.65 L552.66,523.54 L554.40,524.44 L556.14,525.34 L557.88,526.24 L559.62,527.15 L561.36,528.06 L563.10,528.97 L564.84,529.89 L566.58,530.81 L568.32,531.74 L570.06,532.67 L571.80,533.61 L573.54,534.55 L575.28,535.49 L577.02,536.44 L578.76,537.39 L580.50,538.35 L582.24,539.31 L583.98,540.28 L585.72,541.25 L587.46,542.22 L589.20,543.20 L590.94,544.19 L592.68,545.18 L594.42,546.17 L596.16,547.17 L597.90,548.18 L599.65,549.19 L601.39,550.21 L603.13,551.23 L604.87,552.25 L606.61,553.29 L608.35,554.33 L610.09,555.37 L611.83,556.42 L613.57,557.48 L615.31,558.54 L617.05,559.61 L618.79,560.68 L620.53,561.77 L622.27,562.86 L624.01,563.95 L625.75,565.05 L627.49,566.16 L629.23,567.28 L630.97,568.41 L632.71,569.54 L634.45,570.68 L636.19,571.83 L637.93,572.98 L639.67,574.15 L641.41,575.32 L643.15,576.50 L644.89,577.69 L646.63,578.89 L648.37,580.10 L650.11,581.32 L651.85,582.55 L653.59,583.79 L655.33,585.04 L657.07,586.30 L658.81,587.57 L660.55,588.85 L662.29,590.15 L664.03,591.45 L665.77,592.77 L667.51,594.10 L669.26,595.44 L671.00,596.80 L672.74,598.17 L674.48,599.55 L676.22,600.95 L677.96,602.36 L679.70,603.78 L681.44,605.22 L683.18,606.68 L684.92,608.15 L686.66,609.64 L688.40,611.15 L690.14,612.67 L691.88,614.21 L693.62,615.77 L695.36,617.35 L697.10,618.95 L698.84,620.57 L700.58,622.20 L702.32,623.86 L704.06,625.54 L705.80,627.24 L707.54,628.97 L709.28,630.72 L711.02,632.49 L712.76,634.28 L714.50,636.11 L716.24,637.95 L717.98,639.83 L719.72,641.73 L721.46,643.65 L723.20,645.61 L724.94,647.60 L726.68,649.61 L728.42,651.66 L730.16,653.73 L731.90,655.84 L733.64,657.98 L735.38,660.16 L737.13,662.37 L738.87,664.61 L740.61,666.89 L742.35,669.20 L744.09,671.56 L745.83,673.94 L747.57,676.37 L749.31,678.84 L751.05,681.34 L752.79,683.89 L754.53,686.48 L756.27,689.11 L758.01,691.78 L759.75,694.49 L761.49,697.24 L763.23,700.04 L764.97,702.88 L766.71,705.76 L768.45,708.69 L770.19,711.66 L771.93,714.67 L773.67,717.73 L775.41,720.83 L777.15,723.97 L778.89,727.16 L780.63,730.38 L782.37,733.64 L784.11,736.95 L785.85,740.28 L787.59,743.66 L789.33,747.06 L791.07,750.50 L792.81,753.97 L794.55,757.46 L796.29,760.97 L798.03,764.50 L799.77,768.04 L801.51,771.59 L803.25,775.14 L804.99,778.69 L806.74,782.22 L808.48,785.74 L810.22,789.24 L811.96,792.69 L813.70,796.11 L815.44,799.46 L817.18,802.75" stroke="#2e2edc" stroke-width="2" fill="none" stroke-dasharray="5,3.5"/>
<path d="M523.44,517.38 L525.18,518.25 L526.92,519.12 L528.66,520.00 L530.40,520.88 L532.14,521.77 L533.88,522.65 L535.62,523.54 L537.36,524.44 L539.10,525.34 L540.84,526.24 L542.58,527.15 L544.32,528.06 L546.06,528.97 L547.80,529.89 L549.54,530.81 L551.28,531.74 L553.02,532.67 L554.76,533.61 L556.50,534.55 L558.24,535.49 L559.98,536.44 L561.72,537.39 L563.46,538.35 L565.20,539.31 L566.94,540.28 L568.68,541.25 L570.43,542.22 L572.17,543.20 L573.91,544.19 L575.65,545.18 L577.39,546.17 L579.13,547.17 L580.87,548.18 L582.61,549.19 L584.35,550.21 L586.09,551.23 L587.83,552.25 L589.57,553.29 L591.31,554.33 L593.05,555.37 L594.79,556.42 L596.53,557.48 L598.27,558.54 L600.01,559.61 L601.75,560.68 L603.49,561.77 L605.23,562.86 L606.97,563.95 L608.71,565.05 L610.45,566.16 L612.19,567.28 L613.93,568.41 L615.67,569.54 L617.41,570.68 L619.15,571.83 L620.89,572.98 L622.63,574.15 L624.37,575.32 L626.11,576.50 L627.85,577.69 L629.59,578.89 L631.33,580.10 L633.07,581.32 L634.81,582.55 L636.55,583.79 L638.29,585.04 L640.04,586.30 L641.78,587.57 L643.52,588.85 L645.26,590.15 L647.00,591.45 L648.74,592.77 L650.48,594.10 L652.22,595.44 L653.96,596.80 L655.70,598.17 L657.44,599.55 L659.18,600.95 L660.92,602.36 L662.66,603.78 L664.40,605.22 L666.14,606.68 L667.88,608.15 L669.62,609.64 L671.36,611.15 L673.10,612.67 L674.84,614.21 L676.58,615.77 L678.32,617.35 L680.06,618.95 L681.80,620.57 L683.54,622.20 L685.28,623.86 L687.02,625.54 L688.76,627.24 L690.50,628.97 L692.24,630.72 L693.98,632.49 L695.72,634.28 L697.46,636.11 L699.20,637.95 L700.94,639.83 L702.68,641.73 L704.42,643.65 L706.16,645.61 L707.90,647.60 L709.65,649.61 L711.39,651.66 L713.13,653.73 L714.87,655.84 L716.61,657.98 L718.35,660.16 L720.09,662.37 L721.83,664.61 L723.57,666.89 L725.31,669.20 L727.05,671.56 L728.79,673.94 L730.53,676.37 L732.27,678.84 L734.01,681.34 L735.75,683.89 L737.49,686.48 L739.23,689.11 L740.97,691.78 L742.71,694.49 L744.45,697.24 L746.19,700.04 L747.93,702.88 L749.67,705.76 L751.41,708.69 L753.15,711.66 L754.89,714.67 L756.63,717.73 L758.37,720.83 L760.11,723.97 L761.85,727.16 L763.59,730.38 L765.33,733.64 L767.07,736.95 L768.81,740.28 L770.55,743.66 L772.29,747.06 L774.03,750.50 L775.77,753.97 L777.52,757.46 L779.26,760.97 L781.00,764.50 L782.74,768.04 L784.48,771.59 L786.22,775.14 L787.96,778.69 L789.70,782.22 L791.44,785.74 L793.18,789.24 L794.92,792.69 L796.66,796.11 L798.40,799.46 L800.14,802.75" stroke="#2e2edc" stroke-width="2" fill="none" stroke-dasharray="11,7.5,2,7.5,2,7.5"/>
<path d="M496.15,816.50v-2.80 M496.15,487.50v2.80 M507.12,816.50v-2.80 M507.12,487.50v2.80 M516.09,816.50v-2.80 M516.09,487.50v2.80 M523.67,816.50v-2.80 M523.67,487.50v2.80 M530.23,816.50v-2.80 M530.23,487.50v2.80 M536.02,816.50v-2.80 M536.02,487.50v2.80 M541.20,816.50v-4.00 M541.20,487.50v4.00 M575.28,816.50v-2.80 M575.28,487.50v2.80 M595.21,816.50v-2.80 M595.21,487.50v2.80 M609.35,816.50v-2.80 M609.35,487.50v2.80 M620.32,816.50v-2.80 M620.32,487.50v2.80 M629.29,816.50v-2.80 M629.29,487.50v2.80 M636.87,816.50v-2.80 M636.87,487.50v2.80 M643.43,816.50v-2.80 M643.43,487.50v2.80 M649.22,816.50v-2.80 M649.22,487.50v2.80 M654.40,816.50v-4.00 M654.40,487.50v4.00 M688.48,816.50v-2.80 M688.48,487.50v2.80 M708.41,816.50v-2.80 M708.41,487.50v2.80 M722.55,816.50v-2.80 M722.55,487.50v2.80 M733.52,816.50v-2.80 M733.52,487.50v2.80 M742.49,816.50v-2.80 M742.49,487.50v2.80 M750.07,816.50v-2.80 M750.07,487.50v2.80 M756.63,816.50v-2.80 M756.63,487.50v2.80 M762.42,816.50v-2.80 M762.42,487.50v2.80 M767.60,816.50v-4.00 M767.60,487.50v4.00 M801.68,816.50v-2.80 M801.68,487.50v2.80 M821.61,816.50v-2.80 M821.61,487.50v2.80 M491.00,547.10h4.0 M833.00,547.10h-4.0 M491.00,608.85h4.0 M833.00,608.85h-4.0 M491.00,670.60h4.0 M833.00,670.60h-4.0 M491.00,732.35h4.0 M833.00,732.35h-4.0 M491.00,794.10h4.0 M833.00,794.10h-4.0" stroke="#262626" stroke-width="1.2" fill="none"/>
<rect x="491.00" y="487.50" width="342.00" height="329.00" fill="none" stroke="#262626" stroke-width="2.4"/>
<path d="M988.90,485.00V814.00 M1114.80,485.00V814.00 M1240.70,485.00V814.00 M936.00,534.85H1277.00 M936.00,584.60H1277.00 M936.00,634.35H1277.00 M936.00,684.10H1277.00 M936.00,733.85H1277.00 M936.00,783.60H1277.00" stroke="#f0f0f0" stroke-width="1.3" fill="none"/>
<path d="M950.70,510.52 L952.40,511.18 L954.09,511.84 L955.79,512.50 L957.48,513.16 L959.18,513.82 L960.87,514.48 L962.57,515.15 L964.26,515.81 L965.96,516.48 L967.66,517.14 L969.35,517.81 L971.05,518.48 L972.74,519.15 L974.44,519.82 L976.13,520.50 L977.83,521.17 L979.53,521.85 L981.22,522.52 L982.92,523.20 L984.61,523.88 L986.31,524.56 L988.00,525.24 L989.70,525.93 L991.39,526.61 L993.09,527.30 L994.79,527.99 L996.48,528.68 L998.18,529.38 L999.87,530.07 L1001.57,530.77 L1003.26,531.47 L1004.96,532.17 L1006.65,532.87 L1008.35,533.57 L1010.05,534.28 L1011.74,534.99 L1013.44,535.70 L1015.13,536.42 L1016.83,537.13 L1018.52,537.85 L1020.22,538.58 L1021.92,539.30 L1023.61,540.03 L1025.31,540.76 L1027.00,541.49 L1028.70,542.23 L1030.39,542.97 L1032.09,543.71 L1033.78,544.46 L1035.48,545.21 L1037.18,545.96 L1038.87,546.72 L1040.57,547.48 L1042.26,548.25 L1043.96,549.02 L1045.65,549.79 L1047.35,550.57 L1049.04,551.35 L1050.74,552.14 L1052.44,552.93 L1054.13,553.73 L1055.83,554.53 L1057.52,555.33 L1059.22,556.15 L1060.91,556.96 L1062.61,557.79 L1064.31,558.62 L1066.00,559.45 L1067.70,560.30 L1069.39,561.14 L1071.09,562.00 L1072.78,562.86 L1074.48,563.73 L1076.17,564.61 L1077.87,565.49 L1079.57,566.38 L1081.26,567.28 L1082.96,568.19 L1084.65,569.11 L1086.35,570.03 L1088.04,570.97 L1089.74,571.91 L1091.43,572.86 L1093.13,573.83 L1094.83,574.80 L1096.52,575.79 L1098.22,576.78 L1099.91,577.79 L1101.61,578.81 L1103.30,579.84 L1105.00,580.88 L1106.69,581.94 L1108.39,583.01 L1110.09,584.09 L1111.78,585.19 L1113.48,586.30 L1115.17,587.43 L1116.87,588.58 L1118.56,589.73 L1120.26,590.91 L1121.96,592.10 L1123.65,593.32 L1125.35,594.55 L1127.04,595.80 L1128.74,597.06 L1130.43,598.35 L1132.13,599.66 L1133.82,601.00 L1135.52,602.35 L1137.22,603.73 L1138.91,605.13 L1140.61,606.56 L1142.30,608.01 L1144.00,609.49 L1145.69,610.99 L1147.39,612.53 L1149.08,614.09 L1150.78,615.69 L1152.48,617.32 L1154.17,618.98 L1155.87,620.67 L1157.56,622.40 L1159.26,624.17 L1160.95,625.97 L1162.65,627.81 L1164.35,629.70 L1166.04,631.63 L1167.74,633.60 L1169.43,635.62 L1171.13,637.68 L1172.82,639.80 L1174.52,641.97 L1176.21,644.19 L1177.91,646.47 L1179.61,648.81 L1181.30,651.21 L1183.00,653.68 L1184.69,656.21 L1186.39,658.82 L1188.08,661.50 L1189.78,664.27 L1191.47,667.12 L1193.17,670.07 L1194.87,673.11 L1196.56,676.25 L1198.26,679.51 L1199.95,682.90 L1201.65,686.42 L1203.34,690.09 L1205.04,693.93 L1206.74,697.96 L1208.43,702.21 L1210.13,706.73 L1211.82,711.57 L1213.52,716.83 L1215.21,722.64 L1216.91,729.28 L1218.60,737.28 L1220.30,748.18" stroke="#de2e28" stroke-width="2" fill="none"/>
<path d="M950.70,500.02 L952.66,500.64 L954.62,501.27 L956.59,501.90 L958.55,502.53 L960.51,503.17 L962.47,503.81 L964.44,504.46 L966.40,505.11 L968.36,505.77 L970.32,506.43 L972.28,507.09 L974.25,507.76 L976.21,508.43 L978.17,509.11 L980.13,509.79 L982.10,510.48 L984.06,511.17 L986.02,511.87 L987.98,512.57 L989.95,513.28 L991.91,513.99 L993.87,514.70 L995.83,515.42 L997.79,516.14 L999.76,516.87 L1001.72,517.61 L1003.68,518.34 L1005.64,519.09 L1007.61,519.84 L1009.57,520.59 L1011.53,521.35 L1013.49,522.11 L1015.45,522.88 L1017.42,523.65 L1019.38,524.43 L1021.34,525.21 L1023.30,526.00 L1025.27,526.80 L1027.23,527.60 L1029.19,528.40 L1031.15,529.21 L1033.12,530.03 L1035.08,530.85 L1037.04,531.67 L1039.00,532.51 L1040.96,533.34 L1042.93,534.19 L1044.89,535.04 L1046.85,535.89 L1048.81,536.75 L1050.78,537.62 L1052.74,538.49 L1054.70,539.37 L1056.66,540.26 L1058.62,541.15 L1060.59,542.05 L1062.55,542.95 L1064.51,543.86 L1066.47,544.78 L1068.44,545.71 L1070.40,546.64 L1072.36,547.58 L1074.32,548.53 L1076.28,549.48 L1078.25,550.44 L1080.21,551.41 L1082.17,552.39 L1084.13,553.37 L1086.10,554.36 L1088.06,555.36 L1090.02,556.37 L1091.98,557.39 L1093.95,558.41 L1095.91,559.45 L1097.87,560.49 L1099.83,561.54 L1101.79,562.60 L1103.76,563.67 L1105.72,564.75 L1107.68,565.85 L1109.64,566.95 L1111.61,568.06 L1113.57,569.18 L1115.53,570.31 L1117.49,571.46 L1119.45,572.61 L1121.42,573.78 L1123.38,574.96 L1125.34,576.15 L1127.30,577.36 L1129.27,578.58 L1131.23,579.81 L1133.19,581.05 L1135.15,582.31 L1137.12,583.59 L1139.08,584.88 L1141.04,586.18 L1143.00,587.50 L1144.96,588.84 L1146.93,590.19 L1148.89,591.56 L1150.85,592.95 L1152.81,594.36 L1154.78,595.79 L1156.74,597.23 L1158.70,598.70 L1160.66,600.19 L1162.62,601.70 L1164.59,603.24 L1166.55,604.79 L1168.51,606.37 L1170.47,607.98 L1172.44,609.61 L1174.40,611.27 L1176.36,612.96 L1178.32,614.68 L1180.28,616.43 L1182.25,618.20 L1184.21,620.02 L1186.17,621.86 L1188.13,623.75 L1190.10,625.66 L1192.06,627.62 L1194.02,629.62 L1195.98,631.66 L1197.95,633.75 L1199.91,635.88 L1201.87,638.07 L1203.83,640.30 L1205.79,642.59 L1207.76,644.93 L1209.72,647.34 L1211.68,649.81 L1213.64,652.34 L1215.61,654.95 L1217.57,657.64 L1219.53,660.40 L1221.49,663.26 L1223.45,666.20 L1225.42,669.25 L1227.38,672.41 L1229.34,675.68 L1231.30,679.08 L1233.27,682.63 L1235.23,686.33 L1237.19,690.21 L1239.15,694.28 L1241.12,698.58 L1243.08,703.13 L1245.04,707.97 L1247.00,713.17 L1248.96,718.80 L1250.93,724.95 L1252.89,731.79 L1254.85,739.54 L1256.81,748.60 L1258.78,759.72 L1260.74,774.58 L1262.70,798.74" stroke="#2e2edc" stroke-width="2" fill="none"/>
<path d="M988.60,512.02 L990.30,512.68 L991.99,513.34 L993.69,514.00 L995.38,514.66 L997.08,515.32 L998.77,515.98 L1000.47,516.65 L1002.16,517.31 L1003.86,517.98 L1005.56,518.64 L1007.25,519.31 L1008.95,519.98 L1010.64,520.65 L1012.34,521.32 L1014.03,522.00 L1015.73,522.67 L1017.42,523.35 L1019.12,524.02 L1020.82,524.70 L1022.51,525.38 L1024.21,526.06 L1025.90,526.74 L1027.60,527.43 L1029.29,528.11 L1030.99,528.80 L1032.69,529.49 L1034.38,530.18 L1036.08,530.88 L1037.77,531.57 L1039.47,532.27 L1041.16,532.97 L1042.86,533.67 L1044.55,534.37 L1046.25,535.07 L1047.95,535.78 L1049.64,536.49 L1051.34,537.20 L1053.03,537.92 L1054.73,538.63 L1056.42,539.35 L1058.12,540.08 L1059.81,540.80 L1061.51,541.53 L1063.21,542.26 L1064.90,542.99 L1066.60,543.73 L1068.29,544.47 L1069.99,545.21 L1071.68,545.96 L1073.38,546.71 L1075.08,547.46 L1076.77,548.22 L1078.47,548.98 L1080.16,549.75 L1081.86,550.52 L1083.55,551.29 L1085.25,552.07 L1086.94,552.85 L1088.64,553.64 L1090.34,554.43 L1092.03,555.23 L1093.73,556.03 L1095.42,556.83 L1097.12,557.65 L1098.81,558.46 L1100.51,559.29 L1102.20,560.12 L1103.90,560.95 L1105.60,561.80 L1107.29,562.64 L1108.99,563.50 L1110.68,564.36 L1112.38,565.23 L1114.07,566.11 L1115.77,566.99 L1117.47,567.88 L1119.16,568.78 L1120.86,569.69 L1122.55,570.61 L1124.25,571.53 L1125.94,572.47 L1127.64,573.41 L1129.33,574.36 L1131.03,575.33 L1132.73,576.30 L1134.42,577.29 L1136.12,578.28 L1137.81,579.29 L1139.51,580.31 L1141.20,581.34 L1142.90,582.38 L1144.59,583.44 L1146.29,584.51 L1147.99,585.59 L1149.68,586.69 L1151.38,587.80 L1153.07,588.93 L1154.77,590.08 L1156.46,591.23 L1158.16,592.41 L1159.86,593.60 L1161.55,594.82 L1163.25,596.05 L1164.94,597.30 L1166.64,598.56 L1168.33,599.85 L1170.03,601.16 L1171.72,602.50 L1173.42,603.85 L1175.12,605.23 L1176.81,606.63 L1178.51,608.06 L1180.20,609.51 L1181.90,610.99 L1183.59,612.49 L1185.29,614.03 L1186.98,615.59 L1188.68,617.19 L1190.38,618.82 L1192.07,620.48 L1193.77,622.17 L1195.46,623.90 L1197.16,625.67 L1198.85,627.47 L1200.55,629.31 L1202.24,631.20 L1203.94,633.13 L1205.64,635.10 L1207.33,637.12 L1209.03,639.18 L1210.72,641.30 L1212.42,643.47 L1214.11,645.69 L1215.81,647.97 L1217.51,650.31 L1219.20,652.71 L1220.90,655.18 L1222.59,657.71 L1224.29,660.32 L1225.98,663.00 L1227.68,665.77 L1229.37,668.62 L1231.07,671.57 L1232.77,674.61 L1234.46,677.75 L1236.16,681.01 L1237.85,684.40 L1239.55,687.92 L1241.24,691.59 L1242.94,695.43 L1244.63,699.46 L1246.33,703.71 L1248.03,708.23 L1249.72,713.07 L1251.42,718.33 L1253.11,724.14 L1254.81,730.78 L1256.50,738.78 L1258.20,749.68" stroke="#2e2edc" stroke-width="2" fill="none" stroke-dasharray="5,3.5"/>
<path d="M969.65,512.02 L971.35,512.68 L973.04,513.34 L974.74,514.00 L976.43,514.66 L978.13,515.32 L979.82,515.98 L981.52,516.65 L983.21,517.31 L984.91,517.98 L986.61,518.64 L988.30,519.31 L990.00,519.98 L991.69,520.65 L993.39,521.32 L995.08,522.00 L996.78,522.67 L998.47,523.35 L1000.17,524.02 L1001.87,524.70 L1003.56,525.38 L1005.26,526.06 L1006.95,526.74 L1008.65,527.43 L1010.34,528.11 L1012.04,528.80 L1013.74,529.49 L1015.43,530.18 L1017.13,530.88 L1018.82,531.57 L1020.52,532.27 L1022.21,532.97 L1023.91,533.67 L1025.60,534.37 L1027.30,535.07 L1029.00,535.78 L1030.69,536.49 L1032.39,537.20 L1034.08,537.92 L1035.78,538.63 L1037.47,539.35 L1039.17,540.08 L1040.86,540.80 L1042.56,541.53 L1044.26,542.26 L1045.95,542.99 L1047.65,543.73 L1049.34,544.47 L1051.04,545.21 L1052.73,545.96 L1054.43,546.71 L1056.13,547.46 L1057.82,548.22 L1059.52,548.98 L1061.21,549.75 L1062.91,550.52 L1064.60,551.29 L1066.30,552.07 L1067.99,552.85 L1069.69,553.64 L1071.39,554.43 L1073.08,555.23 L1074.78,556.03 L1076.47,556.83 L1078.17,557.65 L1079.86,558.46 L1081.56,559.29 L1083.25,560.12 L1084.95,560.95 L1086.65,561.80 L1088.34,562.64 L1090.04,563.50 L1091.73,564.36 L1093.43,565.23 L1095.12,566.11 L1096.82,566.99 L1098.52,567.88 L1100.21,568.78 L1101.91,569.69 L1103.60,570.61 L1105.30,571.53 L1106.99,572.47 L1108.69,573.41 L1110.38,574.36 L1112.08,575.33 L1113.78,576.30 L1115.47,577.29 L1117.17,578.28 L1118.86,579.29 L1120.56,580.31 L1122.25,581.34 L1123.95,582.38 L1125.64,583.44 L1127.34,584.51 L1129.04,585.59 L1130.73,586.69 L1132.43,587.80 L1134.12,588.93 L1135.82,590.08 L1137.51,591.23 L1139.21,592.41 L1140.91,593.60 L1142.60,594.82 L1144.30,596.05 L1145.99,597.30 L1147.69,598.56 L1149.38,599.85 L1151.08,601.16 L1152.77,602.50 L1154.47,603.85 L1156.17,605.23 L1157.86,606.63 L1159.56,608.06 L1161.25,609.51 L1162.95,610.99 L1164.64,612.49 L1166.34,614.03 L1168.03,615.59 L1169.73,617.19 L1171.43,618.82 L1173.12,620.48 L1174.82,622.17 L1176.51,623.90 L1178.21,625.67 L1179.90,627.47 L1181.60,629.31 L1183.30,631.20 L1184.99,633.13 L1186.69,635.10 L1188.38,637.12 L1190.08,639.18 L1191.77,641.30 L1193.47,643.47 L1195.16,645.69 L1196.86,647.97 L1198.56,650.31 L1200.25,652.71 L1201.95,655.18 L1203.64,657.71 L1205.34,660.32 L1207.03,663.00 L1208.73,665.77 L1210.42,668.62 L1212.12,671.57 L1213.82,674.61 L1215.51,677.75 L1217.21,681.01 L1218.90,684.40 L1220.60,687.92 L1222.29,691.59 L1223.99,695.43 L1225.69,699.46 L1227.38,703.71 L1229.08,708.23 L1230.77,713.07 L1232.47,718.33 L1234.16,724.14 L1235.86,730.78 L1237.55,738.78 L1239.25,749.68" stroke="#2e2edc" stroke-width="2" fill="none" stroke-dasharray="11,7.5,2,7.5,2,7.5"/>
<path d="M938.80,814.00v-2.80 M938.80,485.00v2.80 M951.00,814.00v-2.80 M951.00,485.00v2.80 M960.97,814.00v-2.80 M960.97,485.00v2.80 M969.40,814.00v-2.80 M969.40,485.00v2.80 M976.70,814.00v-2.80 M976.70,485.00v2.80 M983.14,814.00v-2.80 M983.14,485.00v2.80 M988.90,814.00v-4.00 M988.90,485.00v4.00 M1026.80,814.00v-2.80 M1026.80,485.00v2.80 M1048.97,814.00v-2.80 M1048.97,485.00v2.80 M1064.70,814.00v-2.80 M1064.70,485.00v2.80 M1076.90,814.00v-2.80 M1076.90,485.00v2.80 M1086.87,814.00v-2.80 M1086.87,485.00v2.80 M1095.30,814.00v-2.80 M1095.30,485.00v2.80 M1102.60,814.00v-2.80 M1102.60,485.00v2.80 M1109.04,814.00v-2.80 M1109.04,485.00v2.80 M1114.80,814.00v-4.00 M1114.80,485.00v4.00 M1152.70,814.00v-2.80 M1152.70,485.00v2.80 M1174.87,814.00v-2.80 M1174.87,485.00v2.80 M1190.60,814.00v-2.80 M1190.60,485.00v2.80 M1202.80,814.00v-2.80 M1202.80,485.00v2.80 M1212.77,814.00v-2.80 M1212.77,485.00v2.80 M1221.20,814.00v-2.80 M1221.20,485.00v2.80 M1228.50,814.00v-2.80 M1228.50,485.00v2.80 M1234.94,814.00v-2.80 M1234.94,485.00v2.80 M1240.70,814.00v-4.00 M1240.70,485.00v4.00 M936.00,534.85h4.0 M1277.00,534.85h-4.0 M936.00,584.60h4.0 M1277.00,584.60h-4.0 M936.00,634.35h4.0 M1277.00,634.35h-4.0 M936.00,684.10h4.0 M1277.00,684.10h-4.0 M936.00,733.85h4.0 M1277.00,733.85h-4.0 M936.00,783.60h4.0 M1277.00,783.60h-4.0" stroke="#262626" stroke-width="1.2" fill="none"/>
<rect x="936.00" y="485.00" width="341.00" height="329.00" fill="none" stroke="#262626" stroke-width="2.4"/>
<path d="M256.50,9.10H310.30" stroke="#de2e28" stroke-width="2.6" fill="none"/>
<path d="M466.30,11.90H520.30" stroke="#3c3cc0" stroke-width="2.6" fill="none"/>
<path d="M639.50,12.50H690.50" stroke="#3c3cd0" stroke-width="2.6" stroke-dasharray="7,3.9" fill="none"/>
<path d="M898,15.9h16 M923.5,15.9h2.8 M935.5,15.9h2.8 M947.4,15.9h2.8" stroke="#3c3cd0" stroke-width="2.6" fill="none"/>
<path d="M765.00,288.00H807.40" stroke="#de2e28" stroke-width="2.2" fill="none"/>
<path d="M765.00,317.30H807.40" stroke="#2e2edc" stroke-width="2.2" fill="none"/>
<path d="M766.30,346.00H804.50" stroke="#2e2edc" stroke-width="2.2" stroke-dasharray="4.6,3.7" fill="none"/>
<path d="M766.3,375.9h11.5 M785,375.9h2.2 M794.3,375.9h2.2 M804,375.9h2.2" stroke="#2e2edc" stroke-width="2.2" fill="none"/>
<text id="L1" x="328.30" y="18.00" font-size="23.30" font-family='"Liberation Sans", sans-serif' text-anchor="start" fill="#1c1c1c" textLength="75.27" lengthAdjust="spacingAndGlyphs">Half air</text>
<text id="L2" x="539.60" y="21.30" font-size="23.30" font-family='"Liberation Sans", sans-serif' text-anchor="start" fill="#1c1c1c">Air</text>
<text id="L3a" x="710.40" y="24.00" font-size="23.30" font-family='"Liberation Sans", sans-serif' text-anchor="start" fill="#1c1c1c">2</text>
<text id="L3b" x="723.90" y="27.00" font-size="28.00" font-family='"Liberation Sans", sans-serif' text-anchor="start" fill="#1c1c1c">×</text>
<text id="L3c" x="743.05" y="24.00" font-size="23.30" font-family='"Liberation Sans", sans-serif' text-anchor="start" fill="#1c1c1c" textLength="74.33" lengthAdjust="spacingAndGlyphs">Half air</text>
<text id="L4a" x="970.10" y="26.70" font-size="23.30" font-family='"Liberation Sans", sans-serif' text-anchor="start" fill="#1c1c1c">2</text>
<text id="L4b" x="981.30" y="17.20" font-size="16.00" font-family='"Liberation Sans", sans-serif' text-anchor="start" fill="#1c1c1c" textLength="24.48" lengthAdjust="spacingAndGlyphs">1/2</text>
<text id="L4c" x="1009.85" y="29.70" font-size="28.00" font-family='"Liberation Sans", sans-serif' text-anchor="start" fill="#1c1c1c">×</text>
<text id="L4d" x="1029.05" y="26.70" font-size="23.30" font-family='"Liberation Sans", sans-serif' text-anchor="start" fill="#1c1c1c" textLength="73.49" lengthAdjust="spacingAndGlyphs">Half air</text>
<text id="B1" x="821.95" y="295.40" font-size="18.30" font-family='"Liberation Sans", sans-serif' text-anchor="start" fill="#1c1c1c" textLength="59.51" lengthAdjust="spacingAndGlyphs">Half air</text>
<text id="B2" x="822.20" y="323.30" font-size="18.30" font-family='"Liberation Sans", sans-serif' text-anchor="start" fill="#1c1c1c">Air</text>
<text id="B3a" x="822.40" y="354.50" font-size="18.30" font-family='"Liberation Sans", sans-serif' text-anchor="start" fill="#1c1c1c">2</text>
<text id="B3b" x="834.35" y="356.90" font-size="22.00" font-family='"Liberation Sans", sans-serif' text-anchor="start" fill="#1c1c1c">×</text>
<text id="B3c" x="849.20" y="354.50" font-size="18.30" font-family='"Liberation Sans", sans-serif' text-anchor="start" fill="#1c1c1c" textLength="59.36" lengthAdjust="spacingAndGlyphs">Half air</text>
<text id="B4a" x="822.40" y="384.20" font-size="18.30" font-family='"Liberation Sans", sans-serif' text-anchor="start" fill="#1c1c1c">2</text>
<text id="B4b" x="833.80" y="377.00" font-size="12.80" font-family='"Liberation Sans", sans-serif' text-anchor="start" fill="#1c1c1c" textLength="20.24" lengthAdjust="spacingAndGlyphs">1/2</text>
<text id="B4c" x="855.65" y="386.60" font-size="22.00" font-family='"Liberation Sans", sans-serif' text-anchor="start" fill="#1c1c1c">×</text>
<text id="B4d" x="869.65" y="384.20" font-size="18.30" font-family='"Liberation Sans", sans-serif' text-anchor="start" fill="#1c1c1c" textLength="60.76" lengthAdjust="spacingAndGlyphs">Half air</text>
<text id="T_a" x="423.70" y="74.20" font-size="24.00" font-family='"Liberation Sans", sans-serif' text-anchor="middle" fill="#1c1c1c"><tspan font-size="26.0">(</tspan><tspan font-size="19.5">a</tspan><tspan font-size="26.0">)</tspan></text>
<text id="X_a" x="424.00" y="451.90" font-size="18.50" font-family='"Liberation Sans", sans-serif' text-anchor="middle" fill="#1c1c1c" textLength="150.14" lengthAdjust="spacing">Current (mA/cm<tspan font-size="12.8" dy="-7.2">2</tspan><tspan dy="7.2">)</tspan></text>
<text id="Y_a" transform="translate(208.60,247.00) rotate(-90)" x="0" y="0" font-size="18.50" font-family='"Liberation Sans", sans-serif' text-anchor="middle" fill="#1c1c1c" textLength="106.89" lengthAdjust="spacing">Potential (V)</text>
<text id="T_b" x="916.90" y="69.50" font-size="24.00" font-family='"Liberation Sans", sans-serif' text-anchor="middle" fill="#1c1c1c"><tspan font-size="23.5">(</tspan><tspan font-size="21.5">b</tspan><tspan font-size="23.5">)</tspan></text>
<text id="X_b" x="916.90" y="447.40" font-size="18.50" font-family='"Liberation Sans", sans-serif' text-anchor="middle" fill="#1c1c1c" textLength="151.14" lengthAdjust="spacing">Current (mA/cm<tspan font-size="12.8" dy="-7.2">2</tspan><tspan dy="7.2">)</tspan></text>
<text id="Y_b" transform="translate(701.60,242.00) rotate(-90)" x="0" y="0" font-size="18.50" font-family='"Liberation Sans", sans-serif' text-anchor="middle" fill="#1c1c1c" textLength="106.89" lengthAdjust="spacing">Potential (V)</text>
<text id="T_c" x="229.70" y="483.20" font-size="24.00" font-family='"Liberation Sans", sans-serif' text-anchor="middle" fill="#1c1c1c"><tspan font-size="26.0">(</tspan><tspan font-size="19.0">c</tspan><tspan font-size="26.0">)</tspan></text>
<text id="X_c" x="229.20" y="860.90" font-size="18.50" font-family='"Liberation Sans", sans-serif' text-anchor="middle" fill="#1c1c1c" textLength="150.13" lengthAdjust="spacing">Current (mA/cm<tspan font-size="12.8" dy="-7.2">2</tspan><tspan dy="7.2">)</tspan></text>
<text id="Y_c" transform="translate(14.60,656.00) rotate(-90)" x="0" y="0" font-size="18.50" font-family='"Liberation Sans", sans-serif' text-anchor="middle" fill="#1c1c1c" textLength="106.89" lengthAdjust="spacing">Potential (V)</text>
<text id="T_d" x="660.10" y="481.70" font-size="24.00" font-family='"Liberation Sans", sans-serif' text-anchor="middle" fill="#1c1c1c"><tspan font-size="26.0">(</tspan><tspan font-size="21.0">d</tspan><tspan font-size="26.0">)</tspan></text>
<text id="X_d" x="661.00" y="859.40" font-size="18.50" font-family='"Liberation Sans", sans-serif' text-anchor="middle" fill="#1c1c1c" textLength="150.13" lengthAdjust="spacing">Current (mA/cm<tspan font-size="12.8" dy="-7.2">2</tspan><tspan dy="7.2">)</tspan></text>
<text id="Y_d" transform="translate(445.60,654.00) rotate(-90)" x="0" y="0" font-size="18.50" font-family='"Liberation Sans", sans-serif' text-anchor="middle" fill="#1c1c1c" textLength="106.89" lengthAdjust="spacing">Potential (V)</text>
<text id="T_e" x="1105.10" y="479.20" font-size="24.00" font-family='"Liberation Sans", sans-serif' text-anchor="middle" fill="#1c1c1c"><tspan font-size="26.0">(</tspan><tspan font-size="19.0">e</tspan><tspan font-size="26.0">)</tspan></text>
<text id="X_e" x="1105.50" y="856.90" font-size="18.50" font-family='"Liberation Sans", sans-serif' text-anchor="middle" fill="#1c1c1c" textLength="151.14" lengthAdjust="spacing">Current (mA/cm<tspan font-size="12.8" dy="-7.2">2</tspan><tspan dy="7.2">)</tspan></text>
<text id="Y_e" transform="translate(890.60,652.00) rotate(-90)" x="0" y="0" font-size="18.50" font-family='"Liberation Sans", sans-serif' text-anchor="middle" fill="#1c1c1c" textLength="106.89" lengthAdjust="spacing">Potential (V)</text>
<text class="tk" x="248.00" y="152.60" font-size="16.00" font-family='"Liberation Sans", sans-serif' text-anchor="end" fill="#1c1c1c" textLength="29.00" lengthAdjust="spacingAndGlyphs">0.90</text>
<text class="tk" x="248.00" y="222.80" font-size="16.00" font-family='"Liberation Sans", sans-serif' text-anchor="end" fill="#1c1c1c" textLength="29.00" lengthAdjust="spacingAndGlyphs">0.85</text>
<text class="tk" x="248.00" y="293.00" font-size="16.00" font-family='"Liberation Sans", sans-serif' text-anchor="end" fill="#1c1c1c" textLength="29.00" lengthAdjust="spacingAndGlyphs">0.80</text>
<text class="tk" x="248.00" y="363.20" font-size="16.00" font-family='"Liberation Sans", sans-serif' text-anchor="end" fill="#1c1c1c" textLength="29.00" lengthAdjust="spacingAndGlyphs">0.75</text>
<text class="tk" x="302.95" y="425.50" font-size="16.30" font-family='"Liberation Serif", serif' text-anchor="middle" fill="#1c1c1c">10<tspan font-size="11.00" dy="-6.50">1</tspan></text>
<text class="tk" x="416.45" y="425.50" font-size="16.30" font-family='"Liberation Serif", serif' text-anchor="middle" fill="#1c1c1c">10<tspan font-size="11.00" dy="-6.50">2</tspan></text>
<text class="tk" x="529.95" y="425.50" font-size="16.30" font-family='"Liberation Serif", serif' text-anchor="middle" fill="#1c1c1c">10<tspan font-size="11.00" dy="-6.50">3</tspan></text>
<text class="tk" x="741.00" y="135.90" font-size="16.00" font-family='"Liberation Sans", sans-serif' text-anchor="end" fill="#1c1c1c" textLength="29.00" lengthAdjust="spacingAndGlyphs">0.90</text>
<text class="tk" x="741.00" y="190.50" font-size="16.00" font-family='"Liberation Sans", sans-serif' text-anchor="end" fill="#1c1c1c" textLength="29.00" lengthAdjust="spacingAndGlyphs">0.85</text>
<text class="tk" x="741.00" y="245.10" font-size="16.00" font-family='"Liberation Sans", sans-serif' text-anchor="end" fill="#1c1c1c" textLength="29.00" lengthAdjust="spacingAndGlyphs">0.80</text>
<text class="tk" x="741.00" y="299.70" font-size="16.00" font-family='"Liberation Sans", sans-serif' text-anchor="end" fill="#1c1c1c" textLength="29.00" lengthAdjust="spacingAndGlyphs">0.75</text>
<text class="tk" x="741.00" y="354.30" font-size="16.00" font-family='"Liberation Sans", sans-serif' text-anchor="end" fill="#1c1c1c" textLength="29.00" lengthAdjust="spacingAndGlyphs">0.70</text>
<text class="tk" x="741.00" y="408.90" font-size="16.00" font-family='"Liberation Sans", sans-serif' text-anchor="end" fill="#1c1c1c" textLength="29.00" lengthAdjust="spacingAndGlyphs">0.65</text>
<text class="tk" x="795.40" y="421.00" font-size="16.30" font-family='"Liberation Serif", serif' text-anchor="middle" fill="#1c1c1c">10<tspan font-size="11.00" dy="-6.50">1</tspan></text>
<text class="tk" x="908.90" y="421.00" font-size="16.30" font-family='"Liberation Serif", serif' text-anchor="middle" fill="#1c1c1c">10<tspan font-size="11.00" dy="-6.50">2</tspan></text>
<text class="tk" x="1022.40" y="421.00" font-size="16.30" font-family='"Liberation Serif", serif' text-anchor="middle" fill="#1c1c1c">10<tspan font-size="11.00" dy="-6.50">3</tspan></text>
<text class="tk" x="54.00" y="557.50" font-size="16.00" font-family='"Liberation Sans", sans-serif' text-anchor="end" fill="#1c1c1c" textLength="29.00" lengthAdjust="spacingAndGlyphs">0.90</text>
<text class="tk" x="54.00" y="622.60" font-size="16.00" font-family='"Liberation Sans", sans-serif' text-anchor="end" fill="#1c1c1c" textLength="29.00" lengthAdjust="spacingAndGlyphs">0.85</text>
<text class="tk" x="54.00" y="687.70" font-size="16.00" font-family='"Liberation Sans", sans-serif' text-anchor="end" fill="#1c1c1c" textLength="29.00" lengthAdjust="spacingAndGlyphs">0.80</text>
<text class="tk" x="54.00" y="752.80" font-size="16.00" font-family='"Liberation Sans", sans-serif' text-anchor="end" fill="#1c1c1c" textLength="29.00" lengthAdjust="spacingAndGlyphs">0.75</text>
<text class="tk" x="54.00" y="817.90" font-size="16.00" font-family='"Liberation Sans", sans-serif' text-anchor="end" fill="#1c1c1c" textLength="29.00" lengthAdjust="spacingAndGlyphs">0.70</text>
<text class="tk" x="108.30" y="834.50" font-size="16.30" font-family='"Liberation Serif", serif' text-anchor="middle" fill="#1c1c1c">10<tspan font-size="11.00" dy="-6.50">1</tspan></text>
<text class="tk" x="221.80" y="834.50" font-size="16.30" font-family='"Liberation Serif", serif' text-anchor="middle" fill="#1c1c1c">10<tspan font-size="11.00" dy="-6.50">2</tspan></text>
<text class="tk" x="335.30" y="834.50" font-size="16.30" font-family='"Liberation Serif", serif' text-anchor="middle" fill="#1c1c1c">10<tspan font-size="11.00" dy="-6.50">3</tspan></text>
<text class="tk" x="485.00" y="553.20" font-size="16.00" font-family='"Liberation Sans", sans-serif' text-anchor="end" fill="#1c1c1c" textLength="29.00" lengthAdjust="spacingAndGlyphs">0.90</text>
<text class="tk" x="485.00" y="614.95" font-size="16.00" font-family='"Liberation Sans", sans-serif' text-anchor="end" fill="#1c1c1c" textLength="29.00" lengthAdjust="spacingAndGlyphs">0.85</text>
<text class="tk" x="485.00" y="676.70" font-size="16.00" font-family='"Liberation Sans", sans-serif' text-anchor="end" fill="#1c1c1c" textLength="29.00" lengthAdjust="spacingAndGlyphs">0.80</text>
<text class="tk" x="485.00" y="738.45" font-size="16.00" font-family='"Liberation Sans", sans-serif' text-anchor="end" fill="#1c1c1c" textLength="29.00" lengthAdjust="spacingAndGlyphs">0.75</text>
<text class="tk" x="485.00" y="800.20" font-size="16.00" font-family='"Liberation Sans", sans-serif' text-anchor="end" fill="#1c1c1c" textLength="29.00" lengthAdjust="spacingAndGlyphs">0.70</text>
<text class="tk" x="540.40" y="833.00" font-size="16.30" font-family='"Liberation Serif", serif' text-anchor="middle" fill="#1c1c1c">10<tspan font-size="11.00" dy="-6.50">1</tspan></text>
<text class="tk" x="653.60" y="833.00" font-size="16.30" font-family='"Liberation Serif", serif' text-anchor="middle" fill="#1c1c1c">10<tspan font-size="11.00" dy="-6.50">2</tspan></text>
<text class="tk" x="766.80" y="833.00" font-size="16.30" font-family='"Liberation Serif", serif' text-anchor="middle" fill="#1c1c1c">10<tspan font-size="11.00" dy="-6.50">3</tspan></text>
<text class="tk" x="930.00" y="491.20" font-size="16.00" font-family='"Liberation Sans", sans-serif' text-anchor="end" fill="#1c1c1c" textLength="29.00" lengthAdjust="spacingAndGlyphs">0.95</text>
<text class="tk" x="930.00" y="540.95" font-size="16.00" font-family='"Liberation Sans", sans-serif' text-anchor="end" fill="#1c1c1c" textLength="29.00" lengthAdjust="spacingAndGlyphs">0.90</text>
<text class="tk" x="930.00" y="590.70" font-size="16.00" font-family='"Liberation Sans", sans-serif' text-anchor="end" fill="#1c1c1c" textLength="29.00" lengthAdjust="spacingAndGlyphs">0.85</text>
<text class="tk" x="930.00" y="640.45" font-size="16.00" font-family='"Liberation Sans", sans-serif' text-anchor="end" fill="#1c1c1c" textLength="29.00" lengthAdjust="spacingAndGlyphs">0.80</text>
<text class="tk" x="930.00" y="690.20" font-size="16.00" font-family='"Liberation Sans", sans-serif' text-anchor="end" fill="#1c1c1c" textLength="29.00" lengthAdjust="spacingAndGlyphs">0.75</text>
<text class="tk" x="930.00" y="739.95" font-size="16.00" font-family='"Liberation Sans", sans-serif' text-anchor="end" fill="#1c1c1c" textLength="29.00" lengthAdjust="spacingAndGlyphs">0.70</text>
<text class="tk" x="930.00" y="789.70" font-size="16.00" font-family='"Liberation Sans", sans-serif' text-anchor="end" fill="#1c1c1c" textLength="29.00" lengthAdjust="spacingAndGlyphs">0.65</text>
<text class="tk" x="988.10" y="830.50" font-size="16.30" font-family='"Liberation Serif", serif' text-anchor="middle" fill="#1c1c1c">10<tspan font-size="11.00" dy="-6.50">1</tspan></text>
<text class="tk" x="1114.00" y="830.50" font-size="16.30" font-family='"Liberation Serif", serif' text-anchor="middle" fill="#1c1c1c">10<tspan font-size="11.00" dy="-6.50">2</tspan></text>
<text class="tk" x="1239.90" y="830.50" font-size="16.30" font-family='"Liberation Serif", serif' text-anchor="middle" fill="#1c1c1c">10<tspan font-size="11.00" dy="-6.50">3</tspan></text>
</g></svg>
</body></html>
